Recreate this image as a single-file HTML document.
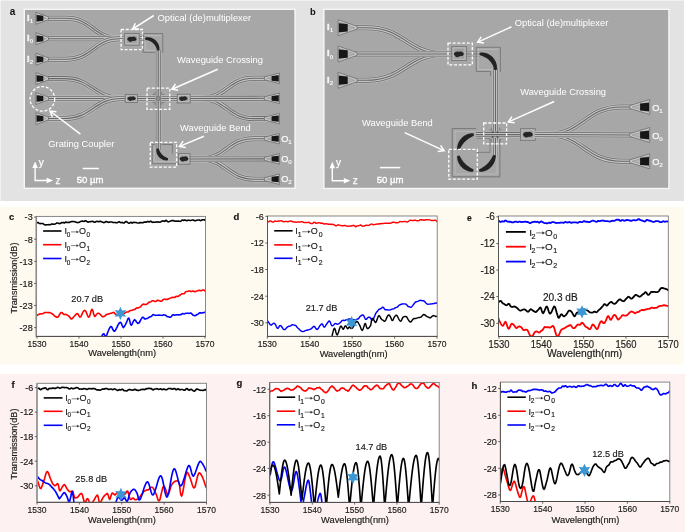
<!DOCTYPE html><html><head><meta charset="utf-8"><style>html,body{margin:0;padding:0;background:#fff;width:685px;height:532px;overflow:hidden}svg{display:block}#wrap{position:absolute;left:0;top:0;will-change:transform}text{font-family:"Liberation Sans", sans-serif}.cht text{stroke:#1a1a1a;stroke-width:0.16px}</style></head><body>
<div id="wrap">
<svg width="685" height="532" viewBox="0 0 685 532">
<defs><filter id="soft" x="-20%" y="-20%" width="140%" height="140%"><feGaussianBlur stdDeviation="0.45"/></filter></defs>
<rect x="0" y="0" width="685" height="532" fill="#ffffff"/>
<rect x="0.5" y="0.5" width="683.5" height="200.5" fill="#e3e3e3"/>
<rect x="0" y="207" width="684" height="157.5" fill="#fffaef"/>
<rect x="0" y="374" width="685" height="158" fill="#fdf1f1"/>
<g><rect x="23.6" y="8.6" width="272.1" height="180.4" fill="#f6f6f6"/><rect x="25" y="10" width="269.3" height="177.6" fill="#a7a7a7"/><path d="M48,18.3 L66,18.3 C93,18.3 93,38.7 120,38.7" fill="none" stroke="#b9b9b9" stroke-width="6.4"/><path d="M48,18.3 L66,18.3 C93,18.3 93,38.7 120,38.7" fill="none" stroke="#6c6c6c" stroke-width="5.0"/><path d="M48,18.3 L66,18.3 C93,18.3 93,38.7 120,38.7" fill="none" stroke="#c4c4c4" stroke-width="3.4"/><path d="M48,18.3 L66,18.3 C93,18.3 93,38.7 120,38.7" fill="none" stroke="#666" stroke-width="1.1"/><path d="M48,38.7 L125,38.7" fill="none" stroke="#b9b9b9" stroke-width="6.4"/><path d="M48,38.7 L125,38.7" fill="none" stroke="#6c6c6c" stroke-width="5.0"/><path d="M48,38.7 L125,38.7" fill="none" stroke="#c4c4c4" stroke-width="3.4"/><path d="M48,38.7 L125,38.7" fill="none" stroke="#666" stroke-width="1.1"/><path d="M48,59.2 L66,59.2 C93,59.2 93,38.7 120,38.7" fill="none" stroke="#b9b9b9" stroke-width="6.4"/><path d="M48,59.2 L66,59.2 C93,59.2 93,38.7 120,38.7" fill="none" stroke="#6c6c6c" stroke-width="5.0"/><path d="M48,59.2 L66,59.2 C93,59.2 93,38.7 120,38.7" fill="none" stroke="#c4c4c4" stroke-width="3.4"/><path d="M48,59.2 L66,59.2 C93,59.2 93,38.7 120,38.7" fill="none" stroke="#666" stroke-width="1.1"/><path d="M48,78.6 L64,78.6 C93,78.6 93,98.5 122,98.5" fill="none" stroke="#b9b9b9" stroke-width="6.4"/><path d="M48,78.6 L64,78.6 C93,78.6 93,98.5 122,98.5" fill="none" stroke="#6c6c6c" stroke-width="5.0"/><path d="M48,78.6 L64,78.6 C93,78.6 93,98.5 122,98.5" fill="none" stroke="#c4c4c4" stroke-width="3.4"/><path d="M48,78.6 L64,78.6 C93,78.6 93,98.5 122,98.5" fill="none" stroke="#666" stroke-width="1.1"/><path d="M48,98.5 L126,98.5" fill="none" stroke="#b9b9b9" stroke-width="6.4"/><path d="M48,98.5 L126,98.5" fill="none" stroke="#6c6c6c" stroke-width="5.0"/><path d="M48,98.5 L126,98.5" fill="none" stroke="#c4c4c4" stroke-width="3.4"/><path d="M48,98.5 L126,98.5" fill="none" stroke="#666" stroke-width="1.1"/><path d="M48,118.5 L64,118.5 C93,118.5 93,98.5 122,98.5" fill="none" stroke="#b9b9b9" stroke-width="6.4"/><path d="M48,118.5 L64,118.5 C93,118.5 93,98.5 122,98.5" fill="none" stroke="#6c6c6c" stroke-width="5.0"/><path d="M48,118.5 L64,118.5 C93,118.5 93,98.5 122,98.5" fill="none" stroke="#c4c4c4" stroke-width="3.4"/><path d="M48,118.5 L64,118.5 C93,118.5 93,98.5 122,98.5" fill="none" stroke="#666" stroke-width="1.1"/><path d="M137,98.5 L178,98.5" fill="none" stroke="#b9b9b9" stroke-width="6.4"/><path d="M137,98.5 L178,98.5" fill="none" stroke="#6c6c6c" stroke-width="5.0"/><path d="M137,98.5 L178,98.5" fill="none" stroke="#c4c4c4" stroke-width="3.4"/><path d="M137,98.5 L178,98.5" fill="none" stroke="#666" stroke-width="1.1"/><path d="M190,98.5 L200,98.5 C227,98.5 227,78.3 254,78.3 L268,78.3" fill="none" stroke="#b9b9b9" stroke-width="6.4"/><path d="M190,98.5 L200,98.5 C227,98.5 227,78.3 254,78.3 L268,78.3" fill="none" stroke="#6c6c6c" stroke-width="5.0"/><path d="M190,98.5 L200,98.5 C227,98.5 227,78.3 254,78.3 L268,78.3" fill="none" stroke="#c4c4c4" stroke-width="3.4"/><path d="M190,98.5 L200,98.5 C227,98.5 227,78.3 254,78.3 L268,78.3" fill="none" stroke="#666" stroke-width="1.1"/><path d="M190,98.5 L200,98.5 C227,98.5 227,118.6 254,118.6 L268,118.6" fill="none" stroke="#b9b9b9" stroke-width="6.4"/><path d="M190,98.5 L200,98.5 C227,98.5 227,118.6 254,118.6 L268,118.6" fill="none" stroke="#6c6c6c" stroke-width="5.0"/><path d="M190,98.5 L200,98.5 C227,98.5 227,118.6 254,118.6 L268,118.6" fill="none" stroke="#c4c4c4" stroke-width="3.4"/><path d="M190,98.5 L200,98.5 C227,98.5 227,118.6 254,118.6 L268,118.6" fill="none" stroke="#666" stroke-width="1.1"/><path d="M190,98.5 L268,98.3" fill="none" stroke="#b9b9b9" stroke-width="6.4"/><path d="M190,98.5 L268,98.3" fill="none" stroke="#6c6c6c" stroke-width="5.0"/><path d="M190,98.5 L268,98.3" fill="none" stroke="#c4c4c4" stroke-width="3.4"/><path d="M190,98.5 L268,98.3" fill="none" stroke="#666" stroke-width="1.1"/><path d="M190,159 L200,159 C227,159 227,138.7 254,138.7 L268,138.7" fill="none" stroke="#b9b9b9" stroke-width="6.4"/><path d="M190,159 L200,159 C227,159 227,138.7 254,138.7 L268,138.7" fill="none" stroke="#6c6c6c" stroke-width="5.0"/><path d="M190,159 L200,159 C227,159 227,138.7 254,138.7 L268,138.7" fill="none" stroke="#c4c4c4" stroke-width="3.4"/><path d="M190,159 L200,159 C227,159 227,138.7 254,138.7 L268,138.7" fill="none" stroke="#666" stroke-width="1.1"/><path d="M190,159 L200,159 C227,159 227,179.2 254,179.2 L268,179.2" fill="none" stroke="#b9b9b9" stroke-width="6.4"/><path d="M190,159 L200,159 C227,159 227,179.2 254,179.2 L268,179.2" fill="none" stroke="#6c6c6c" stroke-width="5.0"/><path d="M190,159 L200,159 C227,159 227,179.2 254,179.2 L268,179.2" fill="none" stroke="#c4c4c4" stroke-width="3.4"/><path d="M190,159 L200,159 C227,159 227,179.2 254,179.2 L268,179.2" fill="none" stroke="#666" stroke-width="1.1"/><path d="M190,159 L268,158.9" fill="none" stroke="#b9b9b9" stroke-width="6.4"/><path d="M190,159 L268,158.9" fill="none" stroke="#6c6c6c" stroke-width="5.0"/><path d="M190,159 L268,158.9" fill="none" stroke="#c4c4c4" stroke-width="3.4"/><path d="M190,159 L268,158.9" fill="none" stroke="#666" stroke-width="1.1"/><path d="M138,38.7 L147,38.7" fill="none" stroke="#b9b9b9" stroke-width="6.4"/><path d="M138,38.7 L147,38.7" fill="none" stroke="#6c6c6c" stroke-width="5.0"/><path d="M138,38.7 L147,38.7" fill="none" stroke="#c4c4c4" stroke-width="3.4"/><path d="M138,38.7 L147,38.7" fill="none" stroke="#666" stroke-width="1.1"/><path d="M158.2,50 L158.2,150" fill="none" stroke="#b9b9b9" stroke-width="6.4"/><path d="M158.2,50 L158.2,150" fill="none" stroke="#6c6c6c" stroke-width="5.0"/><path d="M158.2,50 L158.2,150" fill="none" stroke="#c4c4c4" stroke-width="3.4"/><path d="M158.2,50 L158.2,150" fill="none" stroke="#666" stroke-width="1.1"/><path d="M143.2,33.6 L162.8,33.6 L162.8,53 M143.2,33.6 L143.2,52.4 L155,52.4" fill="none" stroke="#777" stroke-width="0.9"/><path d="M145.2,35.6 L160.8,35.6 M145.2,35.6 L145.2,50.4 L155,50.4" fill="none" stroke="#c2c2c2" stroke-width="0.7"/><polygon points="145.07,37.65 145.6,37.42 146.14,37.3 146.7,37.23 147.25,37.2 147.82,37.19 148.38,37.22 148.94,37.27 149.5,37.35 150.06,37.46 150.61,37.6 151.16,37.76 151.7,37.95 152.23,38.17 152.75,38.41 153.26,38.67 153.76,38.96 154.24,39.28 154.71,39.61 155.16,39.97 155.59,40.35 156.01,40.75 156.4,41.17 156.78,41.61 157.13,42.06 157.46,42.53 157.77,43.01 158.06,43.51 158.32,44.02 158.56,44.54 158.77,45.07 158.95,45.61 159.11,46.15 159.24,46.71 159.34,47.26 159.42,47.82 159.46,48.38 159.47,48.94 159.45,49.5 159.38,50.05 159.2,50.6 157.2,50.6 157,50.15 156.87,49.71 156.74,49.28 156.61,48.86 156.47,48.44 156.32,48.03 156.16,47.63 155.98,47.23 155.8,46.84 155.6,46.46 155.39,46.09 155.17,45.73 154.94,45.37 154.7,45.03 154.44,44.69 154.18,44.37 153.91,44.05 153.62,43.74 153.33,43.44 153.02,43.15 152.71,42.88 152.39,42.61 152.06,42.35 151.72,42.11 151.37,41.87 151.01,41.65 150.64,41.44 150.27,41.24 149.89,41.05 149.5,40.88 149.11,40.71 148.7,40.56 148.29,40.42 147.88,40.3 147.46,40.18 147.03,40.08 146.59,39.98 146.15,39.9 145.71,39.81 145.24,39.64" fill="#222" filter="url(#soft)"/><rect x="124.6" y="33.6" width="14.6" height="11.6" fill="#a9a9a9" stroke="#727272" stroke-width="0.8"/><rect x="126" y="35" width="11.8" height="8.8" fill="#a0a0a0" stroke="#c6c6c6" stroke-width="0.7"/><g filter="url(#soft)"><ellipse cx="131.9" cy="39.05" rx="4.66" ry="2.06" fill="#1c1c1c"/><ellipse cx="130.43" cy="39.32" rx="2.21" ry="2.61" fill="#262626"/><ellipse cx="133.62" cy="38.77" rx="1.96" ry="2.34" fill="#262626"/></g><path d="M152.5,94.5 L155,94.5 L155,92 M161.5,92 L161.5,94.5 L164.5,94.5 M164.5,102.5 L161.5,102.5 L161.5,105 M155,105 L155,102.5 L152.5,102.5" fill="none" stroke="#777" stroke-width="0.8"/><circle cx="158.2" cy="98.5" r="2.4" fill="#777"/><circle cx="158.2" cy="98.5" r="1.2" fill="#9a9a9a"/><rect x="125.2" y="94.6" width="12.4" height="7.8" fill="#a9a9a9" stroke="#727272" stroke-width="0.8"/><rect x="126.6" y="96" width="9.6" height="5" fill="#a0a0a0" stroke="#c6c6c6" stroke-width="0.7"/><g filter="url(#soft)"><ellipse cx="131.6" cy="98.55" rx="4.18" ry="1.76" fill="#1c1c1c"/><ellipse cx="130.28" cy="98.79" rx="1.98" ry="2.23" fill="#262626"/><ellipse cx="133.14" cy="98.32" rx="1.76" ry="2" fill="#262626"/></g><rect x="177.2" y="94.2" width="13" height="8.8" fill="#a9a9a9" stroke="#727272" stroke-width="0.8"/><rect x="178.6" y="95.6" width="10.2" height="6" fill="#a0a0a0" stroke="#c6c6c6" stroke-width="0.7"/><g filter="url(#soft)"><ellipse cx="183.2" cy="98.6" rx="4.18" ry="1.8" fill="#1c1c1c"/><ellipse cx="181.88" cy="98.84" rx="1.98" ry="2.28" fill="#262626"/><ellipse cx="184.74" cy="98.36" rx="1.76" ry="2.04" fill="#262626"/></g><path d="M152.3,144.5 L155,144.5 M161.5,144.5 L172.4,144.5 L172.4,153.6 M152.3,144.5 L152.3,163.7 L178,163.7" fill="none" stroke="#777" stroke-width="0.9"/><path d="M154.3,146.5 L154.3,161.7 L176,161.7" fill="none" stroke="#c2c2c2" stroke-width="0.7"/><polygon points="156.7,148.4 156.47,148.86 156.37,149.33 156.32,149.8 156.3,150.27 156.31,150.75 156.34,151.23 156.4,151.7 156.49,152.18 156.59,152.65 156.72,153.12 156.88,153.58 157.05,154.03 157.25,154.48 157.47,154.92 157.71,155.34 157.97,155.76 158.25,156.16 158.54,156.55 158.86,156.93 159.19,157.29 159.54,157.64 159.91,157.97 160.29,158.28 160.68,158.57 161.09,158.84 161.51,159.1 161.94,159.33 162.37,159.54 162.82,159.74 163.28,159.9 163.74,160.05 164.21,160.18 164.68,160.28 165.15,160.35 165.63,160.4 166.11,160.43 166.58,160.42 167.06,160.39 167.53,160.31 167.99,160.09 168.05,158.29 167.69,158.04 167.34,157.88 166.99,157.73 166.65,157.59 166.31,157.44 165.98,157.29 165.66,157.14 165.35,156.97 165.04,156.8 164.74,156.63 164.44,156.45 164.15,156.26 163.87,156.06 163.59,155.86 163.32,155.65 163.06,155.44 162.8,155.21 162.55,154.99 162.31,154.75 162.07,154.51 161.84,154.27 161.61,154.01 161.39,153.76 161.18,153.49 160.98,153.22 160.78,152.94 160.59,152.66 160.4,152.37 160.22,152.08 160.05,151.77 159.88,151.47 159.73,151.15 159.57,150.83 159.43,150.5 159.29,150.17 159.15,149.83 159.02,149.49 158.89,149.13 158.75,148.77 158.5,148.4" fill="#222" filter="url(#soft)"/><rect x="178.4" y="153.6" width="11.6" height="10.6" fill="#a9a9a9" stroke="#727272" stroke-width="0.8"/><rect x="179.8" y="155" width="8.8" height="7.8" fill="#a0a0a0" stroke="#c6c6c6" stroke-width="0.7"/><g filter="url(#soft)"><ellipse cx="184" cy="158.8" rx="4.37" ry="2.1" fill="#1c1c1c"/><ellipse cx="182.62" cy="159.08" rx="2.07" ry="2.66" fill="#262626"/><ellipse cx="185.61" cy="158.52" rx="1.84" ry="2.38" fill="#262626"/></g><path d="M35.9,12.3 L48.4,16.9 L48.4,19.7 L35.9,24.3 Z" fill="#c9c9c9" stroke="#6c6c6c" stroke-width="0.8" stroke-linejoin="round"/><path d="M36.7,14.6 L46.2,18.3 L36.7,22 Z" fill="#b3b3b3" stroke="#8a8a8a" stroke-width="0.5"/><path d="M36.6,15.05 L43.3,15.75 L43.3,20.85 L36.6,21.55 Z" fill="#161616"/><path d="M35.9,32.7 L48.4,37.3 L48.4,40.1 L35.9,44.7 Z" fill="#c9c9c9" stroke="#6c6c6c" stroke-width="0.8" stroke-linejoin="round"/><path d="M36.7,35 L46.2,38.7 L36.7,42.4 Z" fill="#b3b3b3" stroke="#8a8a8a" stroke-width="0.5"/><path d="M36.6,35.45 L43.3,36.15 L43.3,41.25 L36.6,41.95 Z" fill="#161616"/><path d="M35.9,53.2 L48.4,57.8 L48.4,60.6 L35.9,65.2 Z" fill="#c9c9c9" stroke="#6c6c6c" stroke-width="0.8" stroke-linejoin="round"/><path d="M36.7,55.5 L46.2,59.2 L36.7,62.9 Z" fill="#b3b3b3" stroke="#8a8a8a" stroke-width="0.5"/><path d="M36.6,55.95 L43.3,56.65 L43.3,61.75 L36.6,62.45 Z" fill="#161616"/><path d="M35.9,72.6 L48.4,77.2 L48.4,80 L35.9,84.6 Z" fill="#c9c9c9" stroke="#6c6c6c" stroke-width="0.8" stroke-linejoin="round"/><path d="M36.7,74.9 L46.2,78.6 L36.7,82.3 Z" fill="#b3b3b3" stroke="#8a8a8a" stroke-width="0.5"/><path d="M36.6,75.35 L43.3,76.05 L43.3,81.15 L36.6,81.85 Z" fill="#161616"/><path d="M35.9,92.5 L48.4,97.1 L48.4,99.9 L35.9,104.5 Z" fill="#c9c9c9" stroke="#6c6c6c" stroke-width="0.8" stroke-linejoin="round"/><path d="M36.7,94.8 L46.2,98.5 L36.7,102.2 Z" fill="#b3b3b3" stroke="#8a8a8a" stroke-width="0.5"/><path d="M36.6,95.25 L43.3,95.95 L43.3,101.05 L36.6,101.75 Z" fill="#161616"/><path d="M35.9,112.5 L48.4,117.1 L48.4,119.9 L35.9,124.5 Z" fill="#c9c9c9" stroke="#6c6c6c" stroke-width="0.8" stroke-linejoin="round"/><path d="M36.7,114.8 L46.2,118.5 L36.7,122.2 Z" fill="#b3b3b3" stroke="#8a8a8a" stroke-width="0.5"/><path d="M36.6,115.25 L43.3,115.95 L43.3,121.05 L36.6,121.75 Z" fill="#161616"/><path d="M279.4,73.05 L264.4,76.9 L264.4,79.7 L279.4,83.55 Z" fill="#c9c9c9" stroke="#6c6c6c" stroke-width="0.8" stroke-linejoin="round"/><path d="M278.6,75.35 L266.6,78.3 L278.6,81.25 Z" fill="#b3b3b3" stroke="#8a8a8a" stroke-width="0.5"/><path d="M278.7,75.2 L271.6,75.9 L271.6,80.7 L278.7,81.4 Z" fill="#161616"/><path d="M279.4,93.05 L264.4,96.9 L264.4,99.7 L279.4,103.55 Z" fill="#c9c9c9" stroke="#6c6c6c" stroke-width="0.8" stroke-linejoin="round"/><path d="M278.6,95.35 L266.6,98.3 L278.6,101.25 Z" fill="#b3b3b3" stroke="#8a8a8a" stroke-width="0.5"/><path d="M278.7,95.2 L271.6,95.9 L271.6,100.7 L278.7,101.4 Z" fill="#161616"/><path d="M279.4,113.35 L264.4,117.2 L264.4,120 L279.4,123.85 Z" fill="#c9c9c9" stroke="#6c6c6c" stroke-width="0.8" stroke-linejoin="round"/><path d="M278.6,115.65 L266.6,118.6 L278.6,121.55 Z" fill="#b3b3b3" stroke="#8a8a8a" stroke-width="0.5"/><path d="M278.7,115.5 L271.6,116.2 L271.6,121 L278.7,121.7 Z" fill="#161616"/><path d="M279.4,133.45 L264.4,137.3 L264.4,140.1 L279.4,143.95 Z" fill="#c9c9c9" stroke="#6c6c6c" stroke-width="0.8" stroke-linejoin="round"/><path d="M278.6,135.75 L266.6,138.7 L278.6,141.65 Z" fill="#b3b3b3" stroke="#8a8a8a" stroke-width="0.5"/><path d="M278.7,135.6 L271.6,136.3 L271.6,141.1 L278.7,141.8 Z" fill="#161616"/><path d="M279.4,153.65 L264.4,157.5 L264.4,160.3 L279.4,164.15 Z" fill="#c9c9c9" stroke="#6c6c6c" stroke-width="0.8" stroke-linejoin="round"/><path d="M278.6,155.95 L266.6,158.9 L278.6,161.85 Z" fill="#b3b3b3" stroke="#8a8a8a" stroke-width="0.5"/><path d="M278.7,155.8 L271.6,156.5 L271.6,161.3 L278.7,162 Z" fill="#161616"/><path d="M279.4,173.95 L264.4,177.8 L264.4,180.6 L279.4,184.45 Z" fill="#c9c9c9" stroke="#6c6c6c" stroke-width="0.8" stroke-linejoin="round"/><path d="M278.6,176.25 L266.6,179.2 L278.6,182.15 Z" fill="#b3b3b3" stroke="#8a8a8a" stroke-width="0.5"/><path d="M278.7,176.1 L271.6,176.8 L271.6,181.6 L278.7,182.3 Z" fill="#161616"/><text x="27" y="20.9" font-size="9.2" font-weight="bold" fill="#f6f6f6" stroke="#f6f6f6" stroke-width="0.45">I</text><text x="29.7" y="23.2" font-size="6.2" font-weight="bold" fill="#f6f6f6">1</text><text x="27" y="41.1" font-size="9.2" font-weight="bold" fill="#f6f6f6" stroke="#f6f6f6" stroke-width="0.45">I</text><text x="29.7" y="43.4" font-size="6.2" font-weight="bold" fill="#f6f6f6">0</text><text x="27" y="61.6" font-size="9.2" font-weight="bold" fill="#f6f6f6" stroke="#f6f6f6" stroke-width="0.45">I</text><text x="29.7" y="63.9" font-size="6.2" font-weight="bold" fill="#f6f6f6">2</text><text x="281.2" y="141.6" font-size="9.2" fill="#f8f8f8" stroke="#f8f8f8" stroke-width="0.25">O</text><text x="288.2" y="143.9" font-size="6.2" fill="#f8f8f8" stroke="#f8f8f8" stroke-width="0.15">1</text><text x="281.2" y="161.8" font-size="9.2" fill="#f8f8f8" stroke="#f8f8f8" stroke-width="0.25">O</text><text x="288.2" y="164.1" font-size="6.2" fill="#f8f8f8" stroke="#f8f8f8" stroke-width="0.15">0</text><text x="281.2" y="182.1" font-size="9.2" fill="#f8f8f8" stroke="#f8f8f8" stroke-width="0.25">O</text><text x="288.2" y="184.4" font-size="6.2" fill="#f8f8f8" stroke="#f8f8f8" stroke-width="0.15">2</text><rect x="121.1" y="29.5" width="21.4" height="20.1" fill="none" stroke="#fff" stroke-width="1.3" stroke-dasharray="3,1.7"/><rect x="147" y="88.1" width="22.8" height="21.2" fill="none" stroke="#fff" stroke-width="1.3" stroke-dasharray="3,1.7"/><rect x="150.3" y="142.3" width="26.3" height="24.9" fill="none" stroke="#fff" stroke-width="1.3" stroke-dasharray="3,1.7"/><circle cx="42.4" cy="98.9" r="12.3" fill="none" stroke="#fff" stroke-width="1.3" stroke-dasharray="3,1.7"/><line x1="153.8" y1="15.5" x2="133.27" y2="28.67" stroke="#fff" stroke-width="1.5"/><polyline points="135.39,23.27 132.6,29.1 139.07,28.99" fill="none" stroke="#fff" stroke-width="1.5" stroke-linejoin="miter" stroke-miterlimit="6"/><line x1="217.7" y1="69.3" x2="172.53" y2="88.98" stroke="#fff" stroke-width="1.5"/><polyline points="175.48,83.99 171.8,89.3 178.2,90.22" fill="none" stroke="#fff" stroke-width="1.5" stroke-linejoin="miter" stroke-miterlimit="6"/><line x1="204" y1="136.2" x2="180.14" y2="146.09" stroke="#fff" stroke-width="1.5"/><polyline points="183.18,141.15 179.4,146.4 185.78,147.43" fill="none" stroke="#fff" stroke-width="1.5" stroke-linejoin="miter" stroke-miterlimit="6"/><line x1="80.4" y1="134.2" x2="50.64" y2="111.49" stroke="#fff" stroke-width="1.5"/><polyline points="56.43,111.63 50,111 52.31,117.04" fill="none" stroke="#fff" stroke-width="1.5" stroke-linejoin="miter" stroke-miterlimit="6"/><text x="157.6" y="21.2" font-size="9.35" text-anchor="start" font-weight="normal" fill="#fff">Optical (de)multiplexer</text><text x="177.1" y="62.7" font-size="9.35" text-anchor="start" font-weight="normal" fill="#fff">Waveguide Crossing</text><text x="180" y="130.6" font-size="9.35" text-anchor="start" font-weight="normal" fill="#fff">Waveguide Bend</text><text x="48.3" y="146.7" font-size="9.35" text-anchor="start" font-weight="normal" fill="#fff">Grating Coupler</text><polyline points="35.1,166.5 35.1,180.5 47.6,180.5" fill="none" stroke="#fff" stroke-width="1.4"/><path d="M32.3,168 L35.1,161.5 L37.9,168 Z" fill="#fff"/><path d="M46.6,177.7 L53.1,180.5 L46.6,183.3 Z" fill="#fff"/><text x="38.7" y="165.5" font-size="10" text-anchor="start" font-weight="normal" fill="#fff" stroke="#fff" stroke-width="0.25">y</text><text x="55.6" y="183.9" font-size="10" text-anchor="start" font-weight="normal" fill="#fff" stroke="#fff" stroke-width="0.25">z</text><line x1="82.7" y1="168.5" x2="98.9" y2="168.5" stroke="#fff" stroke-width="1.5"/><text x="90.1" y="183.3" font-size="9.6" text-anchor="middle" font-weight="normal" fill="#fff" stroke="#fff" stroke-width="0.35">50 µm</text></g>
<g><rect x="323.2" y="8.6" width="346.4" height="180.6" fill="#f6f6f6"/><rect x="324.6" y="10" width="343.6" height="177.8" fill="#a7a7a7"/><path d="M349,27.7 L366,27.7 C406,27.7 406,54 446,54" fill="none" stroke="#b9b9b9" stroke-width="6.4"/><path d="M349,27.7 L366,27.7 C406,27.7 406,54 446,54" fill="none" stroke="#6c6c6c" stroke-width="5.0"/><path d="M349,27.7 L366,27.7 C406,27.7 406,54 446,54" fill="none" stroke="#c4c4c4" stroke-width="3.4"/><path d="M349,27.7 L366,27.7 C406,27.7 406,54 446,54" fill="none" stroke="#666" stroke-width="1.1"/><path d="M349,80.3 L366,80.3 C406,80.3 406,54 446,54" fill="none" stroke="#b9b9b9" stroke-width="6.4"/><path d="M349,80.3 L366,80.3 C406,80.3 406,54 446,54" fill="none" stroke="#6c6c6c" stroke-width="5.0"/><path d="M349,80.3 L366,80.3 C406,80.3 406,54 446,54" fill="none" stroke="#c4c4c4" stroke-width="3.4"/><path d="M349,80.3 L366,80.3 C406,80.3 406,54 446,54" fill="none" stroke="#666" stroke-width="1.1"/><path d="M349,54 L452,54" fill="none" stroke="#b9b9b9" stroke-width="6.4"/><path d="M349,54 L452,54" fill="none" stroke="#6c6c6c" stroke-width="5.0"/><path d="M349,54 L452,54" fill="none" stroke="#c4c4c4" stroke-width="3.4"/><path d="M349,54 L452,54" fill="none" stroke="#666" stroke-width="1.1"/><path d="M466,54 L480,54" fill="none" stroke="#b9b9b9" stroke-width="6.4"/><path d="M466,54 L480,54" fill="none" stroke="#6c6c6c" stroke-width="5.0"/><path d="M466,54 L480,54" fill="none" stroke="#c4c4c4" stroke-width="3.4"/><path d="M466,54 L480,54" fill="none" stroke="#666" stroke-width="1.1"/><path d="M495.5,68 L495.5,158" fill="none" stroke="#b9b9b9" stroke-width="6.4"/><path d="M495.5,68 L495.5,158" fill="none" stroke="#6c6c6c" stroke-width="5.0"/><path d="M495.5,68 L495.5,158" fill="none" stroke="#c4c4c4" stroke-width="3.4"/><path d="M495.5,68 L495.5,158" fill="none" stroke="#666" stroke-width="1.1"/><path d="M476,134.6 L521,134.6" fill="none" stroke="#b9b9b9" stroke-width="6.4"/><path d="M476,134.6 L521,134.6" fill="none" stroke="#6c6c6c" stroke-width="5.0"/><path d="M476,134.6 L521,134.6" fill="none" stroke="#c4c4c4" stroke-width="3.4"/><path d="M476,134.6 L521,134.6" fill="none" stroke="#666" stroke-width="1.1"/><path d="M476.2,47.3 L500.4,47.3 L500.4,72 M476.2,47.3 L476.2,71.5 L490.6,71.5 L490.6,76" fill="none" stroke="#777" stroke-width="0.9"/><path d="M478.2,49.3 L498.4,49.3 M478.2,49.3 L478.2,69.5 L492.4,69.5" fill="none" stroke="#c2c2c2" stroke-width="0.7"/><polygon points="479.6,52.9 480.28,52.65 480.96,52.56 481.66,52.52 482.35,52.52 483.05,52.57 483.74,52.64 484.44,52.76 485.12,52.9 485.8,53.08 486.48,53.29 487.14,53.54 487.8,53.81 488.44,54.12 489.07,54.45 489.68,54.81 490.28,55.2 490.86,55.62 491.41,56.07 491.95,56.54 492.47,57.03 492.96,57.55 493.43,58.09 493.88,58.64 494.3,59.22 494.69,59.82 495.05,60.43 495.38,61.06 495.69,61.7 495.96,62.36 496.21,63.02 496.42,63.7 496.6,64.38 496.74,65.06 496.86,65.76 496.93,66.45 496.98,67.15 496.98,67.84 496.94,68.54 496.85,69.22 496.6,69.9 494.4,69.9 494.13,69.33 493.96,68.77 493.8,68.22 493.63,67.68 493.45,67.14 493.26,66.62 493.06,66.1 492.85,65.6 492.62,65.1 492.37,64.61 492.12,64.13 491.85,63.66 491.56,63.2 491.26,62.75 490.95,62.31 490.63,61.89 490.3,61.47 489.95,61.06 489.59,60.67 489.22,60.28 488.83,59.91 488.44,59.55 488.03,59.2 487.61,58.87 487.19,58.55 486.75,58.24 486.3,57.94 485.84,57.65 485.37,57.38 484.89,57.13 484.4,56.88 483.9,56.65 483.4,56.44 482.88,56.24 482.36,56.05 481.82,55.87 481.28,55.7 480.73,55.54 480.17,55.37 479.6,55.1" fill="#222" filter="url(#soft)"/><rect x="451.8" y="46.6" width="14.6" height="14" fill="#a9a9a9" stroke="#727272" stroke-width="0.8"/><rect x="453.2" y="48" width="11.8" height="11.2" fill="#a0a0a0" stroke="#c6c6c6" stroke-width="0.7"/><g filter="url(#soft)"><ellipse cx="458.8" cy="54" rx="4.94" ry="2.25" fill="#1c1c1c"/><ellipse cx="457.24" cy="54.3" rx="2.34" ry="2.85" fill="#262626"/><ellipse cx="460.62" cy="53.7" rx="2.08" ry="2.55" fill="#262626"/></g><path d="M476,128.6 L452.2,128.6 L452.2,176.8 L499.9,176.8 L499.9,140" fill="none" stroke="#737373" stroke-width="0.9"/><path d="M476,131.4 L455,131.4 L455,174 L497.1,174 L497.1,140" fill="none" stroke="#c0c0c0" stroke-width="0.7"/><path d="M476.6,138.3 L490,138.3 L490,152.4 L476.6,152.4" fill="none" stroke="#7a7a7a" stroke-width="0.8"/><polygon points="473.63,133.59 472.98,133.36 472.34,133.31 471.71,133.31 471.07,133.36 470.44,133.43 469.81,133.54 469.19,133.68 468.57,133.84 467.95,134.03 467.35,134.25 466.75,134.49 466.16,134.76 465.59,135.05 465.02,135.36 464.47,135.7 463.93,136.06 463.4,136.44 462.89,136.84 462.4,137.27 461.92,137.71 461.46,138.17 461.02,138.65 460.6,139.15 460.2,139.66 459.82,140.18 459.47,140.73 459.13,141.28 458.82,141.85 458.53,142.43 458.27,143.01 458.03,143.61 457.82,144.22 457.64,144.83 457.48,145.45 457.35,146.07 457.25,146.7 457.19,147.33 457.16,147.97 457.19,148.61 457.39,149.27 459.36,149.61 459.78,149.15 460.06,148.67 460.32,148.2 460.58,147.73 460.83,147.27 461.09,146.82 461.36,146.38 461.63,145.95 461.91,145.52 462.19,145.1 462.48,144.68 462.78,144.28 463.08,143.88 463.39,143.49 463.71,143.11 464.03,142.73 464.36,142.37 464.7,142.01 465.04,141.65 465.39,141.31 465.75,140.97 466.12,140.64 466.49,140.31 466.87,139.99 467.25,139.68 467.65,139.38 468.05,139.08 468.46,138.79 468.87,138.51 469.29,138.24 469.72,137.97 470.16,137.71 470.61,137.45 471.06,137.2 471.52,136.96 471.98,136.72 472.46,136.48 472.94,136.23 473.43,135.97 473.91,135.57" fill="#222" filter="url(#soft)"/><polygon points="457.39,155.93 457.19,156.58 457.16,157.21 457.18,157.84 457.24,158.46 457.33,159.08 457.46,159.7 457.61,160.31 457.79,160.92 458,161.52 458.23,162.11 458.49,162.69 458.77,163.26 459.07,163.82 459.39,164.37 459.74,164.91 460.11,165.43 460.5,165.94 460.91,166.43 461.34,166.91 461.79,167.36 462.26,167.8 462.74,168.23 463.24,168.63 463.75,169.01 464.28,169.37 464.83,169.71 465.38,170.02 465.95,170.32 466.52,170.59 467.11,170.83 467.7,171.05 468.31,171.25 468.92,171.42 469.53,171.56 470.15,171.68 470.77,171.76 471.39,171.81 472.02,171.82 472.65,171.78 473.3,171.56 473.61,169.59 473.15,169.18 472.67,168.91 472.2,168.66 471.74,168.41 471.28,168.17 470.83,167.92 470.39,167.67 469.95,167.41 469.53,167.14 469.11,166.87 468.69,166.59 468.29,166.31 467.89,166.02 467.5,165.72 467.11,165.42 466.74,165.11 466.37,164.79 466,164.47 465.65,164.14 465.3,163.8 464.95,163.45 464.62,163.1 464.28,162.74 463.96,162.38 463.64,162.01 463.33,161.63 463.03,161.24 462.73,160.85 462.44,160.45 462.16,160.04 461.88,159.63 461.61,159.2 461.34,158.77 461.08,158.34 460.82,157.89 460.57,157.44 460.32,156.98 460.06,156.51 459.78,156.04 459.36,155.59" fill="#222" filter="url(#soft)"/><polygon points="479.3,171.56 479.97,171.78 480.61,171.81 481.26,171.8 481.9,171.74 482.54,171.65 483.17,171.53 483.8,171.37 484.42,171.19 485.04,170.99 485.65,170.75 486.25,170.49 486.84,170.21 487.42,169.9 487.98,169.57 488.54,169.21 489.07,168.83 489.6,168.43 490.1,168.01 490.59,167.57 491.06,167.11 491.52,166.63 491.95,166.13 492.36,165.62 492.75,165.09 493.12,164.54 493.47,163.98 493.79,163.41 494.09,162.83 494.36,162.23 494.61,161.63 494.84,161.02 495.03,160.4 495.2,159.77 495.34,159.14 495.45,158.5 495.53,157.86 495.58,157.22 495.59,156.58 495.54,155.93 495.31,155.27 493.33,154.99 492.93,155.48 492.66,155.97 492.42,156.46 492.18,156.94 491.93,157.42 491.68,157.88 491.43,158.34 491.17,158.79 490.91,159.23 490.63,159.67 490.35,160.1 490.07,160.52 489.77,160.93 489.47,161.33 489.16,161.73 488.84,162.12 488.52,162.5 488.18,162.88 487.84,163.24 487.5,163.6 487.14,163.96 486.78,164.3 486.41,164.64 486.04,164.97 485.65,165.3 485.26,165.61 484.86,165.92 484.45,166.23 484.04,166.52 483.62,166.81 483.19,167.09 482.75,167.36 482.3,167.63 481.85,167.89 481.39,168.15 480.92,168.4 480.44,168.65 479.96,168.9 479.47,169.17 478.99,169.59" fill="#222" filter="url(#soft)"/><path d="M489.5,130 L491.5,130 L491.5,127.5 M499.5,127.5 L499.5,130 L501.5,130 M501.5,139.5 L499.5,139.5 L499.5,142 M491.5,142 L491.5,139.5 L489.5,139.5" fill="none" stroke="#777" stroke-width="0.8"/><rect x="491.6" y="131.3" width="1.8" height="1.8" fill="#555"/><rect x="496.6" y="131.3" width="1.8" height="1.8" fill="#555"/><rect x="491.6" y="136.1" width="1.8" height="1.8" fill="#555"/><rect x="496.6" y="136.1" width="1.8" height="1.8" fill="#555"/><rect x="520.6" y="128.7" width="14.7" height="11.6" fill="#a9a9a9" stroke="#727272" stroke-width="0.8"/><rect x="522" y="130.1" width="11.9" height="8.8" fill="#a0a0a0" stroke="#c6c6c6" stroke-width="0.7"/><g filter="url(#soft)"><ellipse cx="527.9" cy="134.5" rx="4.85" ry="2.18" fill="#1c1c1c"/><ellipse cx="526.37" cy="134.79" rx="2.3" ry="2.76" fill="#262626"/><ellipse cx="529.68" cy="134.21" rx="2.04" ry="2.47" fill="#262626"/></g><path d="M535,134.5 L546,134.5 C584,134.5 584,107 622,107 L636,107" fill="none" stroke="#b9b9b9" stroke-width="6.4"/><path d="M535,134.5 L546,134.5 C584,134.5 584,107 622,107 L636,107" fill="none" stroke="#6c6c6c" stroke-width="5.0"/><path d="M535,134.5 L546,134.5 C584,134.5 584,107 622,107 L636,107" fill="none" stroke="#c4c4c4" stroke-width="3.4"/><path d="M535,134.5 L546,134.5 C584,134.5 584,107 622,107 L636,107" fill="none" stroke="#666" stroke-width="1.1"/><path d="M535,134.5 L546,134.5 C584,134.5 584,161.3 622,161.3 L636,161.3" fill="none" stroke="#b9b9b9" stroke-width="6.4"/><path d="M535,134.5 L546,134.5 C584,134.5 584,161.3 622,161.3 L636,161.3" fill="none" stroke="#6c6c6c" stroke-width="5.0"/><path d="M535,134.5 L546,134.5 C584,134.5 584,161.3 622,161.3 L636,161.3" fill="none" stroke="#c4c4c4" stroke-width="3.4"/><path d="M535,134.5 L546,134.5 C584,134.5 584,161.3 622,161.3 L636,161.3" fill="none" stroke="#666" stroke-width="1.1"/><path d="M535,134.5 L636,135" fill="none" stroke="#b9b9b9" stroke-width="6.4"/><path d="M535,134.5 L636,135" fill="none" stroke="#6c6c6c" stroke-width="5.0"/><path d="M535,134.5 L636,135" fill="none" stroke="#c4c4c4" stroke-width="3.4"/><path d="M535,134.5 L636,135" fill="none" stroke="#666" stroke-width="1.1"/><path d="M338.1,19.75 L357.1,26.3 L357.1,29.1 L338.1,35.65 Z" fill="#c9c9c9" stroke="#6c6c6c" stroke-width="0.8" stroke-linejoin="round"/><path d="M338.9,22.05 L354.9,27.7 L338.9,33.35 Z" fill="#b3b3b3" stroke="#8a8a8a" stroke-width="0.5"/><path d="M338.8,23.2 L347.7,23.9 L347.7,31.5 L338.8,32.2 Z" fill="#161616"/><path d="M338.1,46.05 L357.1,52.6 L357.1,55.4 L338.1,61.95 Z" fill="#c9c9c9" stroke="#6c6c6c" stroke-width="0.8" stroke-linejoin="round"/><path d="M338.9,48.35 L354.9,54 L338.9,59.65 Z" fill="#b3b3b3" stroke="#8a8a8a" stroke-width="0.5"/><path d="M338.8,49.5 L347.7,50.2 L347.7,57.8 L338.8,58.5 Z" fill="#161616"/><path d="M338.1,72.35 L357.1,78.9 L357.1,81.7 L338.1,88.25 Z" fill="#c9c9c9" stroke="#6c6c6c" stroke-width="0.8" stroke-linejoin="round"/><path d="M338.9,74.65 L354.9,80.3 L338.9,85.95 Z" fill="#b3b3b3" stroke="#8a8a8a" stroke-width="0.5"/><path d="M338.8,75.8 L347.7,76.5 L347.7,84.1 L338.8,84.8 Z" fill="#161616"/><path d="M649.7,99.5 L629.7,105.6 L629.7,108.4 L649.7,114.5 Z" fill="#c9c9c9" stroke="#6c6c6c" stroke-width="0.8" stroke-linejoin="round"/><path d="M648.9,101.8 L631.9,107 L648.9,112.2 Z" fill="#b3b3b3" stroke="#8a8a8a" stroke-width="0.5"/><path d="M649,102.7 L640.1,103.4 L640.1,110.6 L649,111.3 Z" fill="#161616"/><path d="M649.7,127.5 L629.7,133.6 L629.7,136.4 L649.7,142.5 Z" fill="#c9c9c9" stroke="#6c6c6c" stroke-width="0.8" stroke-linejoin="round"/><path d="M648.9,129.8 L631.9,135 L648.9,140.2 Z" fill="#b3b3b3" stroke="#8a8a8a" stroke-width="0.5"/><path d="M649,130.7 L640.1,131.4 L640.1,138.6 L649,139.3 Z" fill="#161616"/><path d="M649.7,153.8 L629.7,159.9 L629.7,162.7 L649.7,168.8 Z" fill="#c9c9c9" stroke="#6c6c6c" stroke-width="0.8" stroke-linejoin="round"/><path d="M648.9,156.1 L631.9,161.3 L648.9,166.5 Z" fill="#b3b3b3" stroke="#8a8a8a" stroke-width="0.5"/><path d="M649,157 L640.1,157.7 L640.1,164.9 L649,165.6 Z" fill="#161616"/><text x="327.1" y="30" font-size="9.2" font-weight="bold" fill="#f6f6f6" stroke="#f6f6f6" stroke-width="0.45">I</text><text x="329.8" y="32.3" font-size="6.2" font-weight="bold" fill="#f6f6f6">1</text><text x="327.1" y="56.3" font-size="9.2" font-weight="bold" fill="#f6f6f6" stroke="#f6f6f6" stroke-width="0.45">I</text><text x="329.8" y="58.6" font-size="6.2" font-weight="bold" fill="#f6f6f6">0</text><text x="327.1" y="82.6" font-size="9.2" font-weight="bold" fill="#f6f6f6" stroke="#f6f6f6" stroke-width="0.45">I</text><text x="329.8" y="84.9" font-size="6.2" font-weight="bold" fill="#f6f6f6">2</text><text x="652.2" y="110.5" font-size="9.2" fill="#f8f8f8" stroke="#f8f8f8" stroke-width="0.25">O</text><text x="659.2" y="112.8" font-size="6.2" fill="#f8f8f8" stroke="#f8f8f8" stroke-width="0.15">1</text><text x="652.2" y="138.5" font-size="9.2" fill="#f8f8f8" stroke="#f8f8f8" stroke-width="0.25">O</text><text x="659.2" y="140.8" font-size="6.2" fill="#f8f8f8" stroke="#f8f8f8" stroke-width="0.15">0</text><text x="652.2" y="164.8" font-size="9.2" fill="#f8f8f8" stroke="#f8f8f8" stroke-width="0.25">O</text><text x="659.2" y="167.1" font-size="6.2" fill="#f8f8f8" stroke="#f8f8f8" stroke-width="0.15">2</text><rect x="448" y="43.2" width="24.3" height="21.6" fill="none" stroke="#fff" stroke-width="1.3" stroke-dasharray="3,1.7"/><rect x="483.7" y="123" width="22.9" height="20.8" fill="none" stroke="#fff" stroke-width="1.3" stroke-dasharray="3,1.7"/><rect x="448.8" y="149.3" width="28.5" height="29.9" fill="none" stroke="#fff" stroke-width="1.3" stroke-dasharray="3,1.7"/><line x1="511.5" y1="26.8" x2="478.33" y2="41.87" stroke="#fff" stroke-width="1.5"/><polyline points="481.2,36.83 477.6,42.2 484.01,43.02" fill="none" stroke="#fff" stroke-width="1.5" stroke-linejoin="miter" stroke-miterlimit="6"/><line x1="554.2" y1="101.5" x2="509.03" y2="121.67" stroke="#fff" stroke-width="1.5"/><polyline points="511.94,116.65 508.3,122 514.71,122.86" fill="none" stroke="#fff" stroke-width="1.5" stroke-linejoin="miter" stroke-miterlimit="6"/><line x1="404.7" y1="132.6" x2="443.37" y2="150.37" stroke="#fff" stroke-width="1.5"/><polyline points="437.68,151.49 444.1,150.7 440.52,145.31" fill="none" stroke="#fff" stroke-width="1.5" stroke-linejoin="miter" stroke-miterlimit="6"/><text x="514.8" y="26" font-size="9.35" text-anchor="start" font-weight="normal" fill="#fff">Optical (de)multiplexer</text><text x="520.2" y="94.6" font-size="9.35" text-anchor="start" font-weight="normal" fill="#fff">Waveguide Crossing</text><text x="362" y="126.3" font-size="9.35" text-anchor="start" font-weight="normal" fill="#fff">Waveguide Bend</text><polyline points="332.3,166.7 332.3,180.7 344.8,180.7" fill="none" stroke="#fff" stroke-width="1.4"/><path d="M329.5,168.2 L332.3,161.7 L335.1,168.2 Z" fill="#fff"/><path d="M343.8,177.9 L350.3,180.7 L343.8,183.5 Z" fill="#fff"/><text x="335.9" y="165.7" font-size="10" text-anchor="start" font-weight="normal" fill="#fff" stroke="#fff" stroke-width="0.25">y</text><text x="352.8" y="184.1" font-size="10" text-anchor="start" font-weight="normal" fill="#fff" stroke="#fff" stroke-width="0.25">z</text><line x1="379.9" y1="167.6" x2="400.3" y2="167.6" stroke="#fff" stroke-width="1.5"/><text x="390.1" y="183.4" font-size="9.6" text-anchor="middle" font-weight="normal" fill="#fff" stroke="#fff" stroke-width="0.35">50 µm</text></g>
<text x="9.8" y="14.7" font-size="10" text-anchor="start" font-weight="bold" fill="#111">a</text>
<text x="310" y="14.8" font-size="9.4" text-anchor="start" font-weight="bold" fill="#111">b</text>
<g class="cht"><clipPath id="cc"><rect x="36.3" y="216.4" width="169.2" height="120"/></clipPath><rect x="36.3" y="216.4" width="169.2" height="120" fill="#fff"/><polyline points="36.3,315.84 36.7,315.51 37.22,315.32 37.85,314.79 38.54,314.46 39.29,314.14 40.07,313.99 40.84,313.88 41.6,313.8 42.21,313.8 42.84,313.66 43.5,313.26 44.17,312.83 44.85,312.44 45.53,312.56 46.2,312.54 46.86,312.61 47.49,312.56 48.1,312.57 48.83,312.61 49.56,312.49 50.26,312.8 50.95,313.02 51.61,313.59 52.24,313.79 52.84,314.3 53.4,314.65 54.17,315.57 54.8,316.12 55.38,316.64 55.99,316.8 56.7,317.21 57.28,317.31 57.9,317.09 58.55,316.37 59.22,315.04 59.9,313.98 60.6,312.9 61.3,312.53 61.92,312.56 62.54,313.15 63.18,313.97 63.82,314.45 64.47,314.52 65.14,314.35 65.81,314.43 66.5,314.63 67.13,315.08 67.79,315.38 68.46,316.04 69.15,316.43 69.83,317.38 70.5,318.13 71.16,318.99 71.8,318.94 72.4,318.43 73.14,317.53 73.85,316.73 74.53,316 75.19,315.26 75.82,314.59 76.42,313.97 77,313.59 77.73,313.72 78.36,314.7 78.96,315.78 79.59,316.86 80.3,317.03 80.87,316.57 81.48,315.31 82.12,313.87 82.77,312.47 83.43,311.33 84.07,310.69 84.7,310.41 85.32,310.83 85.95,311.59 86.58,313.01 87.2,314.61 87.8,316.05 88.37,317 88.9,317.14 89.71,316 90.43,313.35 91.1,310.78 91.8,309.29 92.39,309.72 92.98,311.32 93.57,313.53 94.18,315.55 94.8,316.45 95.41,316.1 96.01,315.1 96.63,314.2 97.31,313.48 98.1,313.25 98.66,313.19 99.26,313.56 99.91,314.03 100.58,314.71 101.26,315.44 101.95,316.18 102.63,316.78 103.3,316.82 103.96,316.57 104.62,316 105.28,315.54 105.95,314.92 106.62,314.48 107.28,314.18 107.94,314.09 108.6,313.98 109.27,313.72 109.95,313.45 110.65,313.32 111.33,313.25 112,313.07 112.64,312.65 113.25,312.36 113.8,312.43 114.54,313.12 115.14,313.89 115.69,314.48 116.28,314.51 117,314.51 117.54,314.24 118.12,314.45 118.73,314.23 119.37,314.12 120.02,313.62 120.69,313.45 121.35,313.25 122,313.25 122.65,313.3 123.32,313.48 123.99,313.46 124.66,313.16 125.34,312.65 126,312.22 126.66,312.02 127.3,312 128,311.97 128.66,311.74 129.31,311.21 129.96,310.77 130.63,310.51 131.33,310.48 132.1,310.21 132.69,310 133.31,309.69 133.97,309.58 134.66,309.45 135.34,309.02 136.03,308.36 136.7,307.9 137.34,307.9 137.95,308.07 138.5,307.83 139.32,307.38 140.04,307 140.7,306.58 141.33,305.91 141.95,305.01 142.6,304.47 143.28,304.17 143.97,304.21 144.66,304.34 145.33,304.56 145.98,304.56 146.6,304.36 147.24,303.85 147.78,303.31 148.33,302.76 148.97,302.27 149.8,301.98 150.32,301.93 150.9,301.67 151.54,301.31 152.21,300.81 152.9,300.73 153.6,300.75 154.3,301.19 154.97,301.43 155.61,301.54 156.2,301.09 156.87,300.56 157.47,300.22 158.05,300.38 158.6,300.51 159.15,300.71 159.72,300.82 160.33,301.17 161,301.29 161.57,301.18 162.18,300.59 162.8,299.93 163.44,299.37 164.09,299.23 164.76,299.27 165.42,299.33 166.09,299.44 166.75,299.37 167.4,299.35 168.05,299.06 168.7,298.92 169.35,298.51 170,298.28 170.65,297.92 171.3,297.78 171.95,297.53 172.6,297.37 173.25,297.4 173.9,297.47 174.54,297.51 175.19,297 175.83,296.56 176.47,296.24 177.11,296.45 177.74,296.44 178.38,296.28 179.02,295.71 179.66,295.29 180.3,294.78 180.94,294.42 181.58,293.99 182.22,293.71 182.86,293.72 183.5,293.83 184.14,293.71 184.78,292.95 185.42,292.04 186.06,291.5 186.7,291.47 187.34,291.43 187.98,291.28 188.62,291.02 189.26,291 189.89,291.1 190.53,291.37 191.17,291.57 191.81,291.44 192.46,291.13 193.1,291.06 193.75,291.26 194.4,291.69 195.06,291.61 195.72,291.49 196.38,291.07 197.04,290.91 197.69,290.75 198.34,290.49 198.97,290.39 199.6,290.37 200.31,290.63 201.06,290.7 201.83,290.49 202.59,290.07 203.32,289.95 203.99,290.12 204.6,290.75 205.11,290.88 205.5,290.87" fill="none" stroke="#ff0000" stroke-width="1.6" stroke-linejoin="round" stroke-linecap="round" clip-path="url(#cc)"/><polyline points="101,338.16 101.6,336.66 102.4,334.97 103.19,333.98 104,333.74 104.7,335.58 105.6,336.88 106.15,336.13 106.8,334.89 107.5,333.05 108.19,331.23 108.8,329.7 109.44,328.49 109.99,327.41 110.56,326.64 111.2,326.45 111.8,327.12 112.46,328.57 113.14,330.05 113.83,331.03 114.5,331.25 115.15,330.62 115.79,329.74 116.42,328.46 117.06,327.13 117.7,325.63 118.35,324.51 119.02,323.34 119.68,322.66 120.31,322.36 120.9,322.55 121.73,324.19 122.47,326.31 123.3,327.54 123.9,327.09 124.56,326.15 125.24,324.87 125.9,323.55 126.5,322.37 127.16,320.78 127.75,319.19 128.32,318.18 128.9,318.12 129.48,319.75 130.05,322.17 130.64,324.51 131.3,325.24 131.88,324.52 132.48,323.28 133.12,321.75 133.8,320.61 134.5,319.62 135.12,320.1 135.77,320.73 136.44,322.02 137.13,322.63 137.82,323.35 138.5,323.19 139.2,322.74 139.92,321.48 140.65,320.2 141.36,318.73 142.01,317.88 142.6,317.21 143.26,317.31 143.76,317.68 144.27,318.65 145,318.99 145.49,318.87 146.03,318.69 146.62,318.56 147.25,318.57 147.89,318.13 148.54,317.65 149.18,317.17 149.8,316.84 150.47,316.78 151.12,316.52 151.77,316.04 152.43,315.11 153.11,314.56 153.83,314.71 154.6,315.11 155.19,315.4 155.83,315.27 156.5,315.27 157.2,315.25 157.9,315.17 158.59,315.09 159.26,315.14 159.9,315.23 160.48,315.27 161,315.26 161.82,315.42 162.43,315.24 162.95,315.05 163.5,314.83 164.2,315.01 164.73,315.02 165.31,315.15 165.92,315.52 166.55,316.15 167.2,316.62 167.84,316.77 168.48,316.81 169.1,317.06 169.7,317.28 170.31,317.28 170.91,316.86 171.51,316.2 172.1,315.46 172.7,314.94 173.3,314.78 173.9,314.97 174.59,315.12 175.27,315.09 175.96,314.9 176.64,314.78 177.33,314.8 178.01,314.86 178.7,314.91 179.29,314.76 179.88,314.68 180.46,314.57 181.05,314.6 181.64,314.21 182.24,313.77 182.86,313.53 183.5,313.76 184.09,313.95 184.69,313.72 185.31,313.45 185.93,313.19 186.57,313.29 187.2,313.16 187.84,313.32 188.47,313.28 189.1,313.41 189.73,313.21 190.36,313.14 190.99,313.15 191.63,313.66 192.26,314.36 192.89,314.98 193.5,315.31 194.11,315.51 194.7,315.7 195.34,315.66 195.95,315.27 196.54,314.82 197.13,314.5 197.72,314.23 198.32,313.84 198.94,313.29 199.6,312.9 200.24,312.74 200.96,312.85 201.71,312.96 202.48,312.88 203.23,312.65 203.93,312.45 204.57,312.35 205.1,312.3 205.5,312.14" fill="none" stroke="#0000ff" stroke-width="1.6" stroke-linejoin="round" stroke-linecap="round" clip-path="url(#cc)"/><polyline points="36.3,223.28 36.63,222.84 37.02,222.59 37.46,222.58 37.95,222.6 38.49,222.78 39.06,223.19 39.66,223.48 40.29,223.64 40.95,223.54 41.62,223.48 42.32,223.49 43.02,223.61 43.72,224.18 44.43,224.66 45.13,225.04 45.82,224.89 46.5,224.76 47.16,224.78 47.79,224.75 48.4,224.7 49.01,224.54 49.59,224.64 50.15,224.72 50.68,224.55 51.21,224.25 51.73,223.93 52.24,224.02 52.76,224.1 53.28,224.28 53.82,224.2 54.37,224.13 54.95,223.92 55.55,223.68 56.18,223.38 56.85,223 57.56,223.05 58.32,223.19 59.13,223.59 60,223.53 60.46,223.45 60.91,223.03 61.36,222.78 61.81,222.54 62.25,222.76 62.7,222.71 63.14,222.67 63.59,222.44 64.04,222.74 64.5,222.95 64.96,222.83 65.42,222.29 65.9,222.03 66.38,222.21 66.87,222.57 67.38,222.54 67.89,222.4 68.42,222.32 68.97,222.46 69.53,222.36 70.1,221.98 70.7,221.66 71.31,221.53 71.94,221.66 72.59,221.48 73.27,221.5 73.97,221.44 74.69,221.67 75.44,221.9 76.22,222.21 77.02,222.56 77.86,222.58 78.72,222.43 79.62,222.05 80.54,221.57 81.5,221.22 82.5,220.96 82.94,221.14 83.38,221.33 83.84,221.48 84.31,221.32 84.79,221.05 85.28,220.81 85.79,220.9 86.3,221.06 86.82,221.5 87.34,221.8 87.88,222.11 88.43,222.1 88.98,221.83 89.55,221.68 90.12,221.46 90.7,221.68 91.28,221.52 91.88,221.52 92.48,221.21 93.08,221.45 93.7,221.85 94.32,222.32 94.94,222.26 95.57,221.83 96.21,221.48 96.85,221.32 97.49,221.55 98.14,221.59 98.8,221.68 99.45,221.41 100.12,221.35 100.78,221.37 101.45,221.65 102.12,222 102.79,222.3 103.47,222.6 104.15,222.56 104.83,222.4 105.51,221.84 106.2,221.62 106.88,221.61 107.56,222.06 108.25,222.34 108.94,222.3 109.62,222.12 110.31,222.01 110.99,221.99 111.68,222.06 112.36,222.17 113.04,222.43 113.73,222.51 114.4,222.47 115.08,222.51 115.76,222.63 116.43,222.78 117.1,222.67 117.76,222.4 118.43,222 119.08,221.86 119.74,222.09 120.39,222.51 121.04,222.63 121.68,222.48 122.32,222.41 122.95,222.7 123.57,222.96 124.2,222.89 124.81,222.33 125.42,221.82 126.02,221.51 126.61,221.65 127.2,222.05 127.78,222.53 128.36,222.95 128.92,223.19 129.48,223.12 130.03,222.77 130.57,222.3 131.1,222.35 131.62,222.75 132.13,223.07 132.64,222.8 133.13,222.49 133.61,222.36 134.09,222.54 134.55,222.4 135,222.49 135.93,222.51 136.82,222.83 137.69,223 138.52,223.03 139.32,222.87 140.1,222.62 140.85,222.45 141.58,222.67 142.28,222.71 142.96,222.78 143.61,222.33 144.25,222.09 144.87,221.99 145.47,222.1 146.06,222.29 146.63,222.08 147.19,221.87 147.73,221.41 148.27,221.64 148.8,221.76 149.31,222.01 149.83,221.52 150.33,221.32 150.83,221.23 151.33,221.61 151.83,222.06 152.33,222.29 152.82,222.34 153.33,222.14 153.83,222.23 154.34,222.27 154.86,222.33 155.38,222.05 155.91,222.05 156.45,221.96 157.01,222.13 157.58,221.93 158.16,221.9 158.75,221.98 159.37,222.18 160,222.18 160.59,221.86 161.18,221.52 161.78,221.16 162.39,220.95 163.01,220.86 163.62,221.21 164.25,221.33 164.88,221.14 165.51,220.57 166.14,220.32 166.78,220.79 167.43,221.37 168.07,221.85 168.72,221.75 169.37,221.54 170.02,221.29 170.67,220.94 171.32,220.78 171.97,220.55 172.62,220.61 173.27,220.6 173.92,220.86 174.57,220.97 175.21,221.19 175.86,221.08 176.5,221.22 177.13,221.11 177.77,221.25 178.4,221.12 179.02,221.2 179.64,221.25 180.26,221.41 180.87,221.1 181.47,220.55 182.07,220.06 182.66,220.14 183.24,220.37 183.82,220.34 184.39,220.06 184.94,219.96 185.5,220.16 186.04,220.54 186.57,220.6 187.09,220.62 187.6,220.34 188.38,220.27 189.16,220.2 189.94,220.36 190.71,220.47 191.48,220.31 192.24,220.04 192.99,219.93 193.73,220.19 194.47,220.6 195.19,220.7 195.9,220.6 196.59,220.31 197.28,220.18 197.95,220.03 198.6,219.98 199.23,220.02 199.85,220.27 200.45,220.63 201.03,220.5 201.59,220.24 202.12,219.79 202.64,219.85 203.13,219.72 203.59,219.7 204.03,219.7 204.44,219.99 204.82,220.12 205.18,219.97 205.5,219.73" fill="none" stroke="#000" stroke-width="1.6" stroke-linejoin="round" stroke-linecap="round" clip-path="url(#cc)"/><rect x="36.3" y="216.4" width="169.2" height="120" fill="none" stroke="#7a7a7a" stroke-width="0.9"/><line x1="36.3" y1="216.4" x2="36.3" y2="336.9" stroke="#8a8a8a" stroke-width="1.5"/><line x1="36.3" y1="336.4" x2="205.5" y2="336.4" stroke="#4a4a4a" stroke-width="1.0"/><line x1="34.1" y1="217" x2="36.3" y2="217" stroke="#555" stroke-width="0.9"/><text transform="translate(32.7 220.35) scale(0.97 1)" x="0" y="0" font-size="9.4" text-anchor="end" font-weight="normal" fill="#1a1a1a">-3</text><line x1="34.1" y1="239.2" x2="36.3" y2="239.2" stroke="#555" stroke-width="0.9"/><text transform="translate(32.7 242.55) scale(0.97 1)" x="0" y="0" font-size="9.4" text-anchor="end" font-weight="normal" fill="#1a1a1a">-8</text><line x1="34.1" y1="261.3" x2="36.3" y2="261.3" stroke="#555" stroke-width="0.9"/><text transform="translate(32.7 264.65) scale(0.97 1)" x="0" y="0" font-size="9.4" text-anchor="end" font-weight="normal" fill="#1a1a1a">-13</text><line x1="34.1" y1="283.4" x2="36.3" y2="283.4" stroke="#555" stroke-width="0.9"/><text transform="translate(32.7 286.75) scale(0.97 1)" x="0" y="0" font-size="9.4" text-anchor="end" font-weight="normal" fill="#1a1a1a">-18</text><line x1="34.1" y1="305.5" x2="36.3" y2="305.5" stroke="#555" stroke-width="0.9"/><text transform="translate(32.7 308.85) scale(0.97 1)" x="0" y="0" font-size="9.4" text-anchor="end" font-weight="normal" fill="#1a1a1a">-23</text><line x1="34.1" y1="327.6" x2="36.3" y2="327.6" stroke="#555" stroke-width="0.9"/><text transform="translate(32.7 330.95) scale(0.97 1)" x="0" y="0" font-size="9.4" text-anchor="end" font-weight="normal" fill="#1a1a1a">-28</text><line x1="37" y1="336.4" x2="37" y2="338.6" stroke="#555" stroke-width="0.9"/><text transform="translate(37 347.3) scale(0.92 1)" x="0" y="0" font-size="9.3" text-anchor="middle" font-weight="normal" fill="#1a1a1a">1530</text><line x1="79" y1="336.4" x2="79" y2="338.6" stroke="#555" stroke-width="0.9"/><text transform="translate(79 347.3) scale(0.92 1)" x="0" y="0" font-size="9.3" text-anchor="middle" font-weight="normal" fill="#1a1a1a">1540</text><line x1="121" y1="336.4" x2="121" y2="338.6" stroke="#555" stroke-width="0.9"/><text transform="translate(121 347.3) scale(0.92 1)" x="0" y="0" font-size="9.3" text-anchor="middle" font-weight="normal" fill="#1a1a1a">1550</text><line x1="163" y1="336.4" x2="163" y2="338.6" stroke="#555" stroke-width="0.9"/><text transform="translate(163 347.3) scale(0.92 1)" x="0" y="0" font-size="9.3" text-anchor="middle" font-weight="normal" fill="#1a1a1a">1560</text><line x1="205" y1="336.4" x2="205" y2="338.6" stroke="#555" stroke-width="0.9"/><text transform="translate(205 347.3) scale(0.92 1)" x="0" y="0" font-size="9.3" text-anchor="middle" font-weight="normal" fill="#1a1a1a">1570</text><line x1="43.1" y1="231" x2="61.5" y2="231" stroke="#000" stroke-width="1.6"/><text x="64.6" y="234.4" font-size="9" fill="#1a1a1a">I</text><text x="66.8" y="237" font-size="6.4" fill="#1a1a1a">0</text><line x1="71" y1="231.9" x2="77.4" y2="231.9" stroke="#666" stroke-width="0.8"/><path d="M76.5,230.5 L78.9,231.9 L76.5,233.3 Z" fill="#333"/><text x="79" y="234.4" font-size="9" fill="#1a1a1a">O</text><text x="86.5" y="237" font-size="6.4" fill="#1a1a1a">0</text><line x1="43.1" y1="244.7" x2="61.5" y2="244.7" stroke="#ff0000" stroke-width="1.6"/><text x="64.6" y="248.1" font-size="9" fill="#1a1a1a">I</text><text x="66.8" y="250.7" font-size="6.4" fill="#1a1a1a">0</text><line x1="71" y1="245.6" x2="77.4" y2="245.6" stroke="#666" stroke-width="0.8"/><path d="M76.5,244.2 L78.9,245.6 L76.5,247 Z" fill="#333"/><text x="79" y="248.1" font-size="9" fill="#1a1a1a">O</text><text x="86.5" y="250.7" font-size="6.4" fill="#1a1a1a">1</text><line x1="43.1" y1="258.5" x2="61.5" y2="258.5" stroke="#0000ff" stroke-width="1.6"/><text x="64.6" y="261.9" font-size="9" fill="#1a1a1a">I</text><text x="66.8" y="264.5" font-size="6.4" fill="#1a1a1a">0</text><line x1="71" y1="259.4" x2="77.4" y2="259.4" stroke="#666" stroke-width="0.8"/><path d="M76.5,258 L78.9,259.4 L76.5,260.8 Z" fill="#333"/><text x="79" y="261.9" font-size="9" fill="#1a1a1a">O</text><text x="86.5" y="264.5" font-size="6.4" fill="#1a1a1a">2</text><text x="87.2" y="301.6" font-size="9.2" text-anchor="middle" font-weight="normal" fill="#1a1a1a">20.7 dB</text><polygon points="120.4,306.8 118.7,310.46 114.68,310.1 117,313.4 114.68,316.7 118.7,316.34 120.4,320 122.1,316.34 126.12,316.7 123.8,313.4 126.12,310.1 122.1,310.46" fill="#3b97d3"/><text x="16.5" y="278" font-size="9.1" text-anchor="middle" font-weight="normal" fill="#1a1a1a" transform="rotate(-90 16.5 278)">Transmission(dB)</text><text x="122.2" y="356.3" font-size="9.3" text-anchor="middle" font-weight="normal" fill="#1a1a1a">Wavelength(nm)</text><text x="9.1" y="220.2" font-size="9.5" text-anchor="start" font-weight="bold" fill="#111">c</text><clipPath id="cd"><rect x="267.5" y="216" width="169.7" height="120.4"/></clipPath><rect x="267.5" y="216" width="169.7" height="120.4" fill="#fff"/><polyline points="267.5,221.41 267.82,221.57 268.16,221.81 268.52,221.84 268.91,221.75 269.32,221.35 269.75,221.13 270.2,220.91 270.67,220.98 271.16,221.16 271.66,221.42 272.19,221.79 272.73,222.08 273.28,222.12 273.85,221.78 274.44,221.27 275.04,221.05 275.65,221.12 276.27,221.36 276.91,221.38 277.55,221.2 278.21,220.97 278.87,220.95 279.54,220.91 280.22,220.85 280.91,220.82 281.6,220.95 282.3,221.17 283,221.46 283.71,221.67 284.41,221.74 285.13,221.44 285.84,221.36 286.55,221.36 287.26,221.72 287.98,221.67 288.69,221.59 289.4,221.22 290.1,221.11 290.81,221.08 291.5,221.22 292.2,221.47 292.88,221.75 293.56,221.92 294.24,222 294.9,222.04 295.55,222.16 296.2,222.2 296.78,222.1 297.37,222.03 297.96,221.92 298.55,222.02 299.15,222.01 299.75,222.03 300.36,221.92 300.97,221.87 301.58,221.73 302.2,221.81 302.82,221.89 303.44,222.3 304.06,222.46 304.69,222.64 305.32,222.57 305.94,222.59 306.57,222.61 307.21,222.49 307.84,222.36 308.47,222.27 309.1,222.53 309.74,222.9 310.37,223.25 311,223.43 311.64,223.61 312.27,223.46 312.9,223.26 313.53,222.56 314.16,222.35 314.78,222.22 315.41,222.9 316.03,223.26 316.65,223.38 317.27,223.09 317.89,222.81 318.5,222.8 319.11,222.69 319.71,222.85 320.31,223.02 320.91,223.34 321.51,223.26 322.1,223.31 322.68,223.31 323.26,223.72 323.84,223.82 324.41,223.96 324.97,223.93 325.53,223.86 326.08,223.74 326.63,223.64 327.17,223.85 327.7,224.09 328.4,224.3 329.1,224.25 329.8,224.27 330.48,224.34 331.17,224.41 331.84,224.33 332.52,224.32 333.18,224.41 333.85,224.65 334.5,225.03 335.15,225.4 335.8,225.81 336.44,225.69 337.08,225.35 337.71,224.96 338.33,224.85 338.95,225.01 339.57,225.13 340.18,225.38 340.78,225.54 341.38,225.62 341.98,225.7 342.57,225.79 343.15,225.87 343.73,225.74 344.3,225.53 344.87,225.51 345.44,225.61 345.99,225.75 346.55,225.97 347.1,226.16 347.64,226.33 348.18,226.25 348.71,226.13 349.24,226.08 349.76,226 350.28,226.14 350.79,226.04 351.3,226.09 352.04,225.73 352.74,225.58 353.41,225.33 354.06,225.54 354.67,225.92 355.26,226.5 355.84,226.72 356.39,226.46 356.94,225.98 357.47,225.83 357.99,225.86 358.51,225.88 359.03,225.59 359.55,225.39 360.08,225.1 360.61,225.04 361.16,225.21 361.72,225.68 362.3,226.09 362.9,226.23 363.52,226.14 364.17,226.04 364.85,225.65 365.56,225.41 366.31,225.17 367.1,225.33 367.59,225.37 368.1,225.5 368.61,225.36 369.13,225.23 369.67,224.88 370.21,224.61 370.75,224.27 371.31,224.15 371.87,224.07 372.44,224.34 373.02,224.51 373.61,224.69 374.2,224.61 374.79,224.59 375.39,224.37 376,224.31 376.62,224.04 377.23,224.15 377.86,224.01 378.48,224.06 379.11,223.79 379.75,223.81 380.39,223.73 381.03,223.73 381.67,223.46 382.32,223.38 382.97,223.45 383.62,223.51 384.27,223.36 384.92,223.18 385.58,223.1 386.23,223.22 386.89,223.25 387.54,223.39 388.2,223.24 388.85,223.22 389.51,223.1 390.16,223.27 390.81,223.12 391.46,222.88 392.11,222.47 392.76,222.32 393.4,222.28 393.98,222.32 394.57,222.4 395.16,222.58 395.76,222.7 396.37,222.73 396.98,222.69 397.6,222.75 398.23,222.65 398.86,222.26 399.49,221.77 400.13,221.52 400.77,221.66 401.41,221.77 402.06,221.76 402.71,221.6 403.36,221.58 404.01,221.51 404.66,221.6 405.31,221.49 405.97,221.79 406.62,221.9 407.27,222.05 407.92,221.64 408.56,221.26 409.21,220.69 409.85,220.4 410.49,220.13 411.12,220.28 411.75,220.4 412.37,220.65 412.99,220.57 413.61,220.55 414.22,220.27 414.82,220.28 415.41,220.23 416,220.54 416.58,220.6 417.15,220.78 417.71,220.71 418.26,220.82 418.81,220.64 419.34,220.27 419.86,219.75 420.37,219.66 420.87,219.72 421.36,219.98 421.84,219.74 422.3,219.96 423.2,220.05 424.08,220.33 424.93,220.04 425.77,219.76 426.57,219.68 427.36,219.79 428.12,219.88 428.86,219.79 429.57,219.88 430.26,220.06 430.92,220.37 431.56,220.45 432.17,220.53 432.76,220.47 433.32,220.49 433.86,220.35 434.37,220.31 434.85,220.33 435.31,220.32 435.74,220.44 436.15,220.59 436.52,221.17 436.88,221.42 437.2,221.6" fill="none" stroke="#ff0000" stroke-width="1.45" stroke-linejoin="round" stroke-linecap="round" clip-path="url(#cd)"/><polyline points="267.5,320.93 267.98,321.35 268.66,322.52 269.46,323.58 270.3,324.84 270.89,325.03 271.54,324.94 272.22,324.24 272.9,323.69 273.57,323.25 274.2,323.19 274.91,323.77 275.6,324.87 276.26,326.31 276.89,327.53 277.5,328.34 278.17,328.18 278.76,327.35 279.37,326.16 280.1,325.53 280.69,325.63 281.36,326.22 282.06,327.27 282.77,328.34 283.46,329.34 284.1,329.64 284.78,329.64 285.4,329.2 286,328.57 286.62,327.79 287.3,327.09 287.92,326.75 288.58,326.24 289.26,326.21 289.94,326.13 290.63,325.97 291.3,325.33 291.97,324.8 292.66,324.75 293.34,324.86 294,325.04 294.63,325.17 295.2,325.32 295.91,325.73 296.49,326.36 297.08,327.25 297.8,327.98 298.37,328.41 298.99,328.99 299.64,329.73 300.33,330.38 301.05,330.9 301.8,331.31 302.41,331.55 303.06,331.53 303.75,331.32 304.44,331.06 305.14,330.64 305.81,330.37 306.43,330.1 307,330.18 307.78,330 308.46,329.83 309.07,329.63 309.67,329.46 310.3,329.35 310.96,328.97 311.62,328.43 312.28,327.69 312.94,326.96 313.6,326.4 314.24,326.39 314.86,327 315.49,327.97 316.16,328.86 316.9,329.42 317.51,329.37 318.18,328.56 318.89,327.37 319.6,326.01 320.29,325.28 320.94,324.51 321.5,323.96 322.24,323.9 322.8,324.76 323.36,326.17 324.1,326.92 324.66,326.98 325.31,326.08 326,325 326.71,323.81 327.42,322.95 328.09,322.06 328.7,321.2 329.43,320.94 330.08,321.64 330.69,323.34 331.32,324.93 332,325.83 332.61,325.71 333.24,325.24 333.88,324.67 334.55,323.96 335.26,323.54 336,323.53 336.6,323.95 337.25,324.28 337.92,324.16 338.61,323.83 339.29,323.26 339.96,322.81 340.6,322.13 341.2,321.51 341.93,320.7 342.62,320.38 343.27,320.27 343.89,320.49 344.5,320.52 345.1,320.37 345.8,320 346.45,319.66 347.09,319.5 347.74,319.44 348.4,319.24 349.05,319.03 349.68,318.88 350.34,318.92 351.06,319.23 351.9,319.43 352.43,319.66 353.02,319.51 353.64,319.63 354.29,319.72 354.95,320.15 355.61,320.04 356.27,319.67 356.9,319.19 357.5,319.06 358.15,318.95 358.79,318.35 359.42,317.39 360.03,316.46 360.63,316.01 361.21,315.76 361.77,315.38 362.3,314.86 363.08,314.9 363.79,315.85 364.46,317.25 365.12,318.68 365.8,319.39 366.5,319.25 367.2,318.34 367.91,317.58 368.61,317.11 369.3,317.14 369.97,317.48 370.63,318.28 371.29,319.29 371.97,320.12 372.7,320.04 373.34,319.23 373.99,317.7 374.67,316.08 375.37,314.2 376.12,312.83 376.9,311.81 377.46,311.34 378.06,310.43 378.69,309.58 379.33,309.13 379.97,308.94 380.61,308.76 381.24,308.27 381.84,307.88 382.4,307.31 383.06,307.21 383.65,307.65 384.22,308.63 384.77,309.46 385.34,309.83 385.94,309.76 386.6,309.68 387.17,309.61 387.78,309.91 388.42,310.02 389.08,310.11 389.74,309.9 390.39,309.77 391.03,309.54 391.64,309.37 392.2,309.16 392.95,309.01 393.62,308.88 394.25,308.65 394.88,308.21 395.55,307.66 396.3,307.4 396.86,307.24 397.47,306.96 398.11,306.2 398.77,305.53 399.43,304.98 400.09,304.75 400.73,304.5 401.34,304.26 401.9,304.02 402.66,303.93 403.35,303.85 403.99,303.9 404.63,303.86 405.29,304 406,304.13 406.57,304.65 407.17,305.43 407.78,306.24 408.41,306.56 409.03,306.66 409.66,306.84 410.29,307.24 410.9,307.37 411.5,307.07 412.09,306.34 412.67,305.58 413.26,304.77 413.85,304.07 414.45,303.21 415.06,302.47 415.7,301.88 416.3,301.68 416.93,301.67 417.59,301.44 418.25,301.17 418.91,300.75 419.56,300.55 420.18,300.31 420.77,300.34 421.3,300.44 422.12,300.68 422.82,300.62 423.46,300.73 424.1,300.99 424.8,301.72 425.46,302.49 426.14,303.3 426.85,303.9 427.56,304.16 428.24,304.23 428.9,304.15 429.62,304.14 430.28,304.08 430.94,304.05 431.63,303.87 432.4,303.68 432.97,303.71 433.62,303.62 434.32,303.56 435.02,303.16 435.69,303.07 436.31,303.07 436.82,303.27 437.2,303.24" fill="none" stroke="#0000ff" stroke-width="1.45" stroke-linejoin="round" stroke-linecap="round" clip-path="url(#cd)"/><polyline points="330,339.7 330.5,339.09 331.21,337.94 332,336 332.61,333.62 333.26,331.07 333.93,328.91 334.6,328.33 335.26,329.54 335.91,332.16 336.59,334.25 337.3,334.91 337.92,333.76 338.57,331.96 339.23,329.81 339.88,327.71 340.5,326.31 341.23,326.14 341.93,327.25 342.59,328.48 343.2,329.33 343.86,328.47 344.44,327 345.1,325.9 345.75,326.19 346.48,327.04 347.2,328.19 347.8,328.76 348.5,327.9 349.2,326.76 349.73,327.2 350.33,327.95 351.04,328.47 351.9,328.38 352.42,327.89 353.02,327.26 353.67,326.13 354.34,324.76 355.02,323.47 355.67,322.39 356.27,321.88 356.8,321.5 357.65,321.92 358.34,322.8 358.96,324.03 359.6,325.1 360.28,326.59 360.95,328.37 361.62,329.89 362.3,330.38 363.01,329.36 363.74,327.11 364.45,324.72 365.1,323.4 365.8,324.31 366.42,326.83 367.2,328.49 367.85,328.64 368.6,328.08 369.39,327.25 370.12,326.2 370.7,325.33 371.35,321.52 372,318.52 372.56,318.38 373.24,319.06 373.99,320.24 374.76,321.74 375.5,322.54 376.2,321.92 376.9,320.12 377.61,317.96 378.31,316.3 379,315.59 379.7,316.24 380.4,317.41 381.09,318.81 381.76,319.59 382.4,319.94 383.13,320.26 383.79,320.86 384.46,321.28 385.2,320.93 385.86,319.82 386.55,318.14 387.27,316.66 387.99,315.47 388.7,314.95 389.42,315.23 390.17,316.35 390.91,317.87 391.6,319.51 392.2,320.51 392.95,320.22 393.53,318.71 394.2,317.36 394.83,316.39 395.51,315.63 396.23,315.13 397,315.64 397.67,316.69 398.38,318.26 399.12,319.61 399.83,320.7 400.5,321.23 401.24,320.81 401.91,319.4 402.57,317.9 403.3,316.94 403.94,316.8 404.61,316.61 405.3,316.4 406,316.49 406.7,316.97 407.38,318.09 408.06,319.32 408.75,320.48 409.46,321.4 410.2,322 410.83,321.91 411.47,321.28 412.12,320.29 412.8,319.47 413.52,318.79 414.3,318.49 414.86,318.42 415.46,318.49 416.08,318.41 416.72,318.17 417.38,317.9 418.03,317.62 418.67,317.59 419.3,317.41 419.9,317.43 420.55,317.23 421.18,316.91 421.79,316.25 422.4,315.55 423,314.97 423.6,314.58 424.2,314.57 424.8,314.86 425.41,315.41 426.02,315.94 426.63,316.38 427.24,316.7 427.85,316.89 428.44,317.1 429.03,317.43 429.6,317.8 430.34,317.79 431.07,317.38 431.79,316.59 432.48,315.99 433.15,315.55 433.8,315.62 434.59,315.94 435.38,316.25 436.12,316.48 436.75,316.34 437.2,316.24" fill="none" stroke="#000" stroke-width="1.45" stroke-linejoin="round" stroke-linecap="round" clip-path="url(#cd)"/><rect x="267.5" y="216" width="169.7" height="120.4" fill="none" stroke="#7a7a7a" stroke-width="0.9"/><line x1="267.5" y1="216" x2="267.5" y2="336.9" stroke="#555" stroke-width="1.0"/><line x1="267.5" y1="336.4" x2="437.2" y2="336.4" stroke="#4a4a4a" stroke-width="1.0"/><line x1="265.3" y1="216.3" x2="267.5" y2="216.3" stroke="#555" stroke-width="0.9"/><text transform="translate(263.9 219.65) scale(0.97 1)" x="0" y="0" font-size="9.4" text-anchor="end" font-weight="normal" fill="#1a1a1a">-6</text><line x1="265.3" y1="243" x2="267.5" y2="243" stroke="#555" stroke-width="0.9"/><text transform="translate(263.9 246.35) scale(0.97 1)" x="0" y="0" font-size="9.4" text-anchor="end" font-weight="normal" fill="#1a1a1a">-12</text><line x1="265.3" y1="269.5" x2="267.5" y2="269.5" stroke="#555" stroke-width="0.9"/><text transform="translate(263.9 272.85) scale(0.97 1)" x="0" y="0" font-size="9.4" text-anchor="end" font-weight="normal" fill="#1a1a1a">-18</text><line x1="265.3" y1="296.2" x2="267.5" y2="296.2" stroke="#555" stroke-width="0.9"/><text transform="translate(263.9 299.55) scale(0.97 1)" x="0" y="0" font-size="9.4" text-anchor="end" font-weight="normal" fill="#1a1a1a">-24</text><line x1="265.3" y1="322.8" x2="267.5" y2="322.8" stroke="#555" stroke-width="0.9"/><text transform="translate(263.9 326.15) scale(0.97 1)" x="0" y="0" font-size="9.4" text-anchor="end" font-weight="normal" fill="#1a1a1a">-30</text><line x1="267.3" y1="336.4" x2="267.3" y2="338.6" stroke="#555" stroke-width="0.9"/><text transform="translate(267.3 347.3) scale(0.92 1)" x="0" y="0" font-size="9.3" text-anchor="middle" font-weight="normal" fill="#1a1a1a">1530</text><line x1="309.73" y1="336.4" x2="309.73" y2="338.6" stroke="#555" stroke-width="0.9"/><text transform="translate(309.73 347.3) scale(0.92 1)" x="0" y="0" font-size="9.3" text-anchor="middle" font-weight="normal" fill="#1a1a1a">1540</text><line x1="352.15" y1="336.4" x2="352.15" y2="338.6" stroke="#555" stroke-width="0.9"/><text transform="translate(352.15 347.3) scale(0.92 1)" x="0" y="0" font-size="9.3" text-anchor="middle" font-weight="normal" fill="#1a1a1a">1550</text><line x1="394.57" y1="336.4" x2="394.57" y2="338.6" stroke="#555" stroke-width="0.9"/><text transform="translate(394.57 347.3) scale(0.92 1)" x="0" y="0" font-size="9.3" text-anchor="middle" font-weight="normal" fill="#1a1a1a">1560</text><line x1="437" y1="336.4" x2="437" y2="338.6" stroke="#555" stroke-width="0.9"/><text transform="translate(437 347.3) scale(0.92 1)" x="0" y="0" font-size="9.3" text-anchor="middle" font-weight="normal" fill="#1a1a1a">1570</text><line x1="274.2" y1="230.8" x2="292.6" y2="230.8" stroke="#000" stroke-width="1.6"/><text x="295.3" y="234.44" font-size="9" fill="#1a1a1a">I</text><text x="297.65" y="237.22" font-size="6.85" fill="#1a1a1a">1</text><line x1="302.15" y1="231.76" x2="309" y2="231.76" stroke="#666" stroke-width="0.86"/><path d="M308.03,230.27 L310.6,231.76 L308.03,233.26 Z" fill="#333"/><text x="310.71" y="234.44" font-size="9" fill="#1a1a1a">O</text><text x="318.73" y="237.22" font-size="6.85" fill="#1a1a1a">0</text><line x1="274.2" y1="244.9" x2="292.6" y2="244.9" stroke="#ff0000" stroke-width="1.6"/><text x="295.3" y="248.54" font-size="9" fill="#1a1a1a">I</text><text x="297.65" y="251.32" font-size="6.85" fill="#1a1a1a">1</text><line x1="302.15" y1="245.86" x2="309" y2="245.86" stroke="#666" stroke-width="0.86"/><path d="M308.03,244.37 L310.6,245.86 L308.03,247.36 Z" fill="#333"/><text x="310.71" y="248.54" font-size="9" fill="#1a1a1a">O</text><text x="318.73" y="251.32" font-size="6.85" fill="#1a1a1a">1</text><line x1="274.2" y1="258.3" x2="292.6" y2="258.3" stroke="#0000ff" stroke-width="1.6"/><text x="295.3" y="261.94" font-size="9" fill="#1a1a1a">I</text><text x="297.65" y="264.72" font-size="6.85" fill="#1a1a1a">1</text><line x1="302.15" y1="259.26" x2="309" y2="259.26" stroke="#666" stroke-width="0.86"/><path d="M308.03,257.76 L310.6,259.26 L308.03,260.76 Z" fill="#333"/><text x="310.71" y="261.94" font-size="9" fill="#1a1a1a">O</text><text x="318.73" y="264.72" font-size="6.85" fill="#1a1a1a">2</text><text x="321.5" y="311.2" font-size="9.2" text-anchor="middle" font-weight="normal" fill="#1a1a1a">21.7 dB</text><polygon points="351.6,316 349.9,319.66 345.88,319.3 348.2,322.6 345.88,325.9 349.9,325.54 351.6,329.2 353.3,325.54 357.32,325.9 355,322.6 357.32,319.3 353.3,319.66" fill="#3b97d3"/><text x="353.6" y="356.8" font-size="9.3" text-anchor="middle" font-weight="normal" fill="#1a1a1a">Wavelength(nm)</text><text x="233.5" y="220.2" font-size="9.5" text-anchor="start" font-weight="bold" fill="#111">d</text><clipPath id="ce"><rect x="498.5" y="216" width="169.8" height="120.5"/></clipPath><rect x="498.5" y="216" width="169.8" height="120.5" fill="#fff"/><polyline points="498.5,318.3 498.92,319.57 499.51,321.03 500.2,322.5 500.94,323.91 501.66,325.02 502.3,325.73 502.98,325.74 503.62,324.97 504.24,323.6 504.86,322.31 505.5,321.81 506.15,322.79 506.81,324.69 507.48,326.71 508.14,328.28 508.8,328.72 509.45,328.14 510.09,326.57 510.73,325.08 511.4,323.84 512.1,323.66 512.74,324.04 513.41,324.62 514.11,325.25 514.8,326.18 515.47,327.22 516.1,328 516.78,328.01 517.4,327.56 518,326.83 518.62,326.51 519.3,326.36 519.92,326.66 520.58,326.79 521.26,327.29 521.94,328.04 522.63,329.08 523.3,329.82 523.95,330.07 524.58,329.99 525.21,329.81 525.85,329.64 526.51,329.61 527.2,329.91 527.83,330.81 528.5,332.24 529.19,333.85 529.88,335.3 530.56,336.34 531.2,336.78 531.8,336.74 532.53,335.99 533.18,335.03 533.8,333.75 534.42,332.71 535.1,331.82 535.71,331.61 536.35,331.51 537.01,331.56 537.67,331.77 538.34,332.22 539,332.6 539.66,332.37 540.33,331.64 541,331.01 541.67,330.56 542.34,330.27 543,329.43 543.67,328.37 544.35,327.31 545.03,326.85 545.69,327.02 546.32,327.29 546.9,327.31 547.63,327.1 548.25,327.16 548.87,327.44 549.6,327.66 550.18,327.63 550.81,327.26 551.47,326.87 552.16,326.09 552.84,325.92 553.5,326.25 554.15,327.98 554.8,330.08 555.44,332.4 556.09,334.37 556.74,335.95 557.4,336.67 558.06,336.37 558.73,335.28 559.4,333.83 560.07,332.23 560.74,330.75 561.4,329.78 562.05,329.24 562.68,328.99 563.31,328.61 563.95,328.35 564.61,327.98 565.3,327.74 565.93,327.26 566.6,326.82 567.29,326.44 567.98,326.17 568.66,325.91 569.3,325.39 569.9,325.09 570.63,325.19 571.28,325.85 571.9,326.76 572.52,327.54 573.2,328.21 573.83,328.22 574.49,328.06 575.17,327.38 575.85,326.66 576.5,325.79 577.1,325.08 577.9,324.54 578.63,324.52 579.32,324.79 580,324.8 580.65,324.19 581.27,323.19 581.91,322.69 582.6,322.85 583.2,323.55 583.84,324.35 584.5,325.29 585.18,326.25 585.9,326.91 586.54,327.15 587.21,327.52 587.91,328.05 588.6,328.71 589.27,329.11 589.9,329.14 590.58,328.55 591.2,327.21 591.8,325.87 592.42,324.66 593.1,324.47 593.74,324.9 594.43,325.92 595.14,326.98 595.84,328.05 596.51,328.83 597.1,329.1 597.86,328.29 598.53,326.65 599.13,324.77 599.7,323.35 600.39,322.14 601.01,321.33 601.7,321.22 602.29,321.65 602.92,322.71 603.59,323.19 604.3,323.2 604.92,322.28 605.57,321.1 606.25,319.64 606.93,317.87 607.6,316.49 608.26,316.05 608.92,316.89 609.58,318.29 610.24,319.54 610.9,319.85 611.55,319.03 612.19,317.79 612.84,316.54 613.5,315.56 614.2,314.9 614.82,314.93 615.46,315.41 616.11,316.37 616.78,317.65 617.44,318.95 618.1,319.59 618.75,319.43 619.4,318.66 620.04,318.09 620.69,317.3 621.34,316.51 622,315.57 622.65,315.17 623.28,315.2 623.92,315.42 624.57,315.6 625.26,315.64 626,315.61 626.59,315.46 627.21,315.13 627.86,314.47 628.52,313.73 629.19,313.04 629.86,312.43 630.54,311.85 631.2,311.51 631.86,311.62 632.53,311.89 633.21,312.14 633.89,312.53 634.56,313.13 635.22,313.34 635.87,312.88 636.5,312.32 637.19,312.07 637.87,312.19 638.52,311.93 639.17,311.45 639.81,310.88 640.45,310.5 641.1,310.27 641.75,310.01 642.4,309.9 643.04,309.99 643.69,310.12 644.34,310.11 645.01,309.75 645.7,309.43 646.32,309.31 646.96,309.07 647.6,309.02 648.26,308.8 648.92,308.94 649.58,308.73 650.24,308.54 650.9,307.95 651.56,307.7 652.22,307.56 652.88,307.93 653.54,308.08 654.21,308.11 654.87,307.89 655.54,307.88 656.2,307.85 656.85,307.71 657.49,307.19 658.12,306.72 658.76,306.26 659.4,306.01 660.07,305.86 660.77,305.84 661.5,305.86 662.09,305.6 662.74,305.55 663.43,305.21 664.15,305.36 664.87,305.21 665.58,305.51 666.26,305.68 666.9,305.91 667.46,305.98 667.93,305.83 668.3,305.94" fill="none" stroke="#ff0000" stroke-width="1.8" stroke-linejoin="round" stroke-linecap="round" clip-path="url(#ce)"/><polyline points="498.5,302.26 499.14,301.76 500.04,301.08 500.9,300.95 501.55,301.65 502.15,302.7 502.9,303.41 503.49,303.59 504.16,303.93 504.87,304.54 505.56,305.01 506.2,305.29 506.91,305.04 507.58,304.57 508.21,303.97 508.8,303.78 509.49,304.32 510.11,305.62 510.8,306.4 511.39,306.81 512.02,306.81 512.69,306.99 513.4,306.71 514.02,306.57 514.67,306.38 515.35,306.87 516.03,307.2 516.7,307.74 517.36,308.12 518.02,308.9 518.68,309.62 519.34,310.16 520,310.57 520.65,310.56 521.29,310.39 521.94,310.06 522.6,309.76 523.3,309.51 523.92,309.28 524.58,309.41 525.25,309.72 525.92,310.28 526.58,310.83 527.2,311.48 527.88,311.73 528.5,311.57 529.12,310.91 529.77,310.04 530.5,309.41 531.11,309.18 531.78,309.65 532.49,310.22 533.2,310.82 533.89,311.13 534.54,311.49 535.1,311.92 535.89,312.07 536.52,311.69 537.09,310.87 537.7,310.27 538.37,309.6 539.05,308.7 539.73,307.73 540.4,307.43 541.03,308.34 541.62,310.36 542.26,312.23 543,313.26 543.58,312.69 544.23,311.49 544.91,309.78 545.6,308.08 546.27,306.75 546.9,306.48 547.59,307.72 548.23,309.84 548.86,311.83 549.5,313.18 550.2,313.63 550.84,313.09 551.53,311.95 552.24,310.43 552.94,308.67 553.61,307.21 554.2,306.33 554.96,306.96 555.62,308.69 556.23,311.03 556.8,313.08 557.49,315.31 558.11,317.1 558.8,317.92 559.41,317.23 560.06,316.06 560.74,314.68 561.4,314.19 562.05,314.51 562.7,315.37 563.35,316.05 564,316.31 564.66,316.05 565.34,315.6 565.99,314.88 566.6,314.13 567.29,313.05 567.91,311.84 568.6,311.01 569.19,310.58 569.82,310.6 570.49,310.8 571.2,311.49 571.83,312.16 572.5,313.39 573.2,314.67 573.87,315.89 574.5,316.4 575.17,315.82 575.76,314.66 576.37,313.33 577.1,312.55 577.69,312.36 578.33,312.38 579.02,312.28 579.72,311.97 580.42,311.31 581.1,310.82 581.77,310.35 582.44,310.11 583.12,309.67 583.78,309.39 584.41,309.26 585,309.5 585.82,309.78 586.57,310.17 587.26,310.46 587.9,310.73 588.59,311.24 589.18,311.89 589.9,312.36 590.46,312.45 591.09,312.53 591.76,312.64 592.43,312.64 593.1,312.27 593.75,311.82 594.41,311.55 595.08,311.74 595.74,312.1 596.4,312.33 597.04,311.97 597.66,311.28 598.29,310.42 598.96,309.91 599.7,309.21 600.3,308.92 600.96,308.06 601.65,307.48 602.35,306.53 603.04,305.76 603.7,304.91 604.3,304.15 605.04,304.13 605.71,304.65 606.34,305.57 606.96,305.68 607.6,305.13 608.25,304.2 608.89,303.39 609.54,302.92 610.2,302.39 610.9,302.01 611.51,302.01 612.13,302.43 612.77,303.15 613.43,303.54 614.1,303.75 614.8,303.74 615.43,303.55 616.08,303.06 616.75,302.16 617.43,301.47 618.11,300.56 618.77,299.92 619.4,299.36 620.09,299.36 620.76,299.73 621.4,300.19 622.04,300.7 622.71,301.09 623.4,301.23 624.04,301.03 624.71,300.39 625.4,299.64 626.1,298.91 626.77,298.19 627.41,297.51 628,296.91 628.71,296.75 629.31,296.99 629.89,297.63 630.49,298.27 631.2,298.7 631.79,298.53 632.43,298.15 633.1,297.5 633.8,296.61 634.49,295.8 635.16,295.08 635.8,294.92 636.49,294.89 637.13,295.44 637.76,295.82 638.4,296.29 639.07,296.48 639.8,296.73 640.41,296.52 641.06,296.07 641.75,295.12 642.44,294.64 643.14,294.06 643.81,293.75 644.43,293.11 645,292.47 645.78,292.19 646.46,292.68 647.07,293.68 647.67,294.59 648.3,294.82 648.92,294.69 649.5,293.97 650.09,293.16 650.77,292.14 651.6,291.86 652.16,291.93 652.79,292.1 653.47,291.86 654.19,291.91 654.91,291.93 655.63,292.22 656.31,292.08 656.94,292.06 657.5,291.95 658.32,291.66 658.98,291.03 659.56,290.07 660.14,289.18 660.8,288.42 661.42,288.1 662.07,287.92 662.73,288.01 663.4,288.22 664.06,288.46 664.7,288.57 665.5,288.79 666.33,289.03 667.13,289.43 667.82,289.87 668.3,290.38" fill="none" stroke="#000" stroke-width="1.8" stroke-linejoin="round" stroke-linecap="round" clip-path="url(#ce)"/><polyline points="498.5,221.15 498.82,221.01 499.16,221.02 499.53,221.32 499.92,221.75 500.33,221.94 500.76,222 501.21,221.83 501.68,221.56 502.17,221.34 502.68,221.24 503.21,221.57 503.76,221.58 504.32,221.33 504.9,220.71 505.5,220.49 506.11,220.7 506.74,221.15 507.39,221.57 508.04,221.69 508.71,221.75 509.4,221.7 510.09,221.75 510.8,221.9 511.52,222.08 512.25,222.46 512.99,222.45 513.73,222.29 514.49,221.78 515.26,221.56 516.03,221.62 516.81,221.9 517.6,222.08 518.4,221.97 519.2,221.71 520,221.66 520.49,221.78 520.99,222.05 521.5,222.08 522.01,222.02 522.53,221.86 523.06,221.87 523.59,221.9 524.14,221.91 524.68,221.69 525.24,221.64 525.8,221.72 526.36,221.95 526.93,221.98 527.51,221.97 528.09,222.03 528.68,222.4 529.27,222.81 529.87,223.1 530.47,223.06 531.07,222.68 531.68,222.35 532.29,222.03 532.9,222.09 533.52,221.92 534.14,221.79 534.77,221.57 535.4,221.8 536.02,221.96 536.66,222.03 537.29,221.73 537.93,221.9 538.56,222.37 539.2,222.73 539.84,222.33 540.48,221.69 541.12,221.39 541.76,221.64 542.41,221.98 543.05,222.39 543.69,222.78 544.33,223.04 544.97,223.03 545.61,223.04 546.25,223.17 546.89,223.37 547.53,223.32 548.17,223 548.8,222.75 549.43,222.65 550.06,222.99 550.69,222.91 551.31,222.63 551.94,222.16 552.56,222.05 553.17,222.14 553.79,222.22 554.39,222.33 555,222.59 555.6,222.77 556.2,223.02 556.8,222.95 557.4,222.94 557.99,222.84 558.59,222.95 559.18,222.92 559.77,222.81 560.36,222.59 560.95,222.59 561.54,222.59 562.13,222.59 562.72,222.66 563.3,222.83 563.89,222.77 564.47,222.39 565.06,222 565.64,221.96 566.23,222.25 566.81,222.41 567.4,222.62 567.98,222.4 568.57,222.29 569.15,221.95 569.74,222.14 570.32,222.47 570.91,222.84 571.5,222.85 572.09,222.63 572.68,222.45 573.27,222.35 573.86,222.33 574.45,222.29 575.05,222.3 575.64,222.34 576.24,222.39 576.84,222.62 577.44,222.76 578.05,222.79 578.65,222.37 579.26,221.97 579.87,221.8 580.48,221.89 581.09,222.05 581.71,222.16 582.33,222.04 582.95,221.73 583.58,221.15 584.2,221.11 584.83,221.37 585.47,221.72 586.1,221.8 586.75,221.74 587.39,221.73 588.04,221.89 588.69,222.05 589.34,222.21 590,221.93 590.56,221.59 591.13,221.3 591.7,221 592.28,220.73 592.87,220.52 593.46,220.74 594.06,221.03 594.66,221.21 595.27,221.43 595.89,221.77 596.51,221.84 597.13,221.58 597.76,220.97 598.4,220.87 599.03,221.04 599.67,221.16 600.32,221.09 600.97,220.61 601.62,220.71 602.27,220.51 602.92,220.73 603.58,220.65 604.24,220.99 604.9,221.15 605.56,221.22 606.22,221.18 606.88,221.12 607.54,221.17 608.21,221.28 608.87,221.4 609.53,221.57 610.19,221.42 610.85,221.41 611.51,220.98 612.17,220.89 612.82,220.67 613.47,220.8 614.12,220.86 614.77,220.7 615.42,220.32 616.06,219.88 616.7,219.73 617.33,219.82 617.96,219.69 618.59,219.73 619.21,219.9 619.82,220.6 620.43,220.83 621.04,220.81 621.64,220.22 622.24,220.03 622.82,220.08 623.4,220.42 623.98,220.68 624.55,220.71 625.11,220.78 625.66,220.41 626.2,220.15 626.74,219.82 627.27,220 627.79,220.04 628.3,220.12 628.8,220.27 629.29,220.38 629.77,220.52 630.25,220.44 630.71,220.76 631.16,220.88 631.6,220.76 632.57,220.34 633.5,220.1 634.38,220.18 635.22,220.35 636.01,220.45 636.77,220.22 637.49,219.77 638.17,219.19 638.83,219.19 639.46,219.45 640.06,220 640.64,220.15 641.19,220.29 641.73,220.37 642.26,220.67 642.77,220.83 643.27,221.02 643.76,221.09 644.25,221.43 644.73,221.49 645.22,221.47 645.71,220.91 646.2,220.49 646.7,219.85 647.21,219.86 647.73,219.9 648.27,220.43 648.82,220.53 649.4,220.77 650,220.74 650.62,220.89 651.26,221.1 651.92,221.45 652.59,221.77 653.27,221.83 653.96,221.81 654.66,221.56 655.36,221.24 656.07,221.08 656.79,221.06 657.5,221.2 658.21,221.2 658.91,221.49 659.61,221.85 660.3,222.19 660.98,222.22 661.65,222.06 662.3,221.67 662.94,221.27 663.56,221.2 664.16,221.49 664.73,221.82 665.29,221.76 665.81,221.5 666.31,221.34 666.78,221.32 667.21,221.58 667.61,221.53 667.98,221.68 668.3,221.52" fill="none" stroke="#0000ff" stroke-width="1.8" stroke-linejoin="round" stroke-linecap="round" clip-path="url(#ce)"/><rect x="498.5" y="216" width="169.8" height="120.5" fill="none" stroke="#7a7a7a" stroke-width="0.9"/><line x1="498.5" y1="216" x2="498.5" y2="337" stroke="#555" stroke-width="1.0"/><line x1="498.5" y1="336.5" x2="668.3" y2="336.5" stroke="#4a4a4a" stroke-width="1.0"/><line x1="496.3" y1="216.8" x2="498.5" y2="216.8" stroke="#555" stroke-width="0.9"/><text transform="translate(494.9 220.49) scale(0.97 1)" x="0" y="0" font-size="10.34" text-anchor="end" font-weight="normal" fill="#1a1a1a">-6</text><line x1="496.3" y1="243.6" x2="498.5" y2="243.6" stroke="#555" stroke-width="0.9"/><text transform="translate(494.9 247.28) scale(0.97 1)" x="0" y="0" font-size="10.34" text-anchor="end" font-weight="normal" fill="#1a1a1a">-12</text><line x1="496.3" y1="270" x2="498.5" y2="270" stroke="#555" stroke-width="0.9"/><text transform="translate(494.9 273.69) scale(0.97 1)" x="0" y="0" font-size="10.34" text-anchor="end" font-weight="normal" fill="#1a1a1a">-18</text><line x1="496.3" y1="296.6" x2="498.5" y2="296.6" stroke="#555" stroke-width="0.9"/><text transform="translate(494.9 300.29) scale(0.97 1)" x="0" y="0" font-size="10.34" text-anchor="end" font-weight="normal" fill="#1a1a1a">-24</text><line x1="496.3" y1="323.3" x2="498.5" y2="323.3" stroke="#555" stroke-width="0.9"/><text transform="translate(494.9 326.99) scale(0.97 1)" x="0" y="0" font-size="10.34" text-anchor="end" font-weight="normal" fill="#1a1a1a">-30</text><line x1="499" y1="336.5" x2="499" y2="338.7" stroke="#555" stroke-width="0.9"/><text transform="translate(499 348.04) scale(0.92 1)" x="0" y="0" font-size="10.23" text-anchor="middle" font-weight="normal" fill="#1a1a1a">1530</text><line x1="541.33" y1="336.5" x2="541.33" y2="338.7" stroke="#555" stroke-width="0.9"/><text transform="translate(541.33 348.04) scale(0.92 1)" x="0" y="0" font-size="10.23" text-anchor="middle" font-weight="normal" fill="#1a1a1a">1540</text><line x1="583.65" y1="336.5" x2="583.65" y2="338.7" stroke="#555" stroke-width="0.9"/><text transform="translate(583.65 348.04) scale(0.92 1)" x="0" y="0" font-size="10.23" text-anchor="middle" font-weight="normal" fill="#1a1a1a">1550</text><line x1="625.97" y1="336.5" x2="625.97" y2="338.7" stroke="#555" stroke-width="0.9"/><text transform="translate(625.97 348.04) scale(0.92 1)" x="0" y="0" font-size="10.23" text-anchor="middle" font-weight="normal" fill="#1a1a1a">1560</text><line x1="668.3" y1="336.5" x2="668.3" y2="338.7" stroke="#555" stroke-width="0.9"/><text transform="translate(668.3 348.04) scale(0.92 1)" x="0" y="0" font-size="10.23" text-anchor="middle" font-weight="normal" fill="#1a1a1a">1570</text><line x1="505.9" y1="231.9" x2="525.8" y2="231.9" stroke="#000" stroke-width="1.8"/><text x="529.2" y="235.64" font-size="9.9" fill="#1a1a1a">I</text><text x="531.62" y="238.5" font-size="7.04" fill="#1a1a1a">2</text><line x1="536.24" y1="232.89" x2="543.28" y2="232.89" stroke="#666" stroke-width="0.88"/><path d="M542.29,231.35 L544.93,232.89 L542.29,234.43 Z" fill="#333"/><text x="545.04" y="235.64" font-size="9.9" fill="#1a1a1a">O</text><text x="553.29" y="238.5" font-size="7.04" fill="#1a1a1a">0</text><line x1="505.9" y1="246.7" x2="525.8" y2="246.7" stroke="#ff0000" stroke-width="1.8"/><text x="529.2" y="250.44" font-size="9.9" fill="#1a1a1a">I</text><text x="531.62" y="253.3" font-size="7.04" fill="#1a1a1a">2</text><line x1="536.24" y1="247.69" x2="543.28" y2="247.69" stroke="#666" stroke-width="0.88"/><path d="M542.29,246.15 L544.93,247.69 L542.29,249.23 Z" fill="#333"/><text x="545.04" y="250.44" font-size="9.9" fill="#1a1a1a">O</text><text x="553.29" y="253.3" font-size="7.04" fill="#1a1a1a">1</text><line x1="505.9" y1="261.6" x2="525.8" y2="261.6" stroke="#0000ff" stroke-width="1.8"/><text x="529.2" y="265.34" font-size="9.9" fill="#1a1a1a">I</text><text x="531.62" y="268.2" font-size="7.04" fill="#1a1a1a">2</text><line x1="536.24" y1="262.59" x2="543.28" y2="262.59" stroke="#666" stroke-width="0.88"/><path d="M542.29,261.05 L544.93,262.59 L542.29,264.13 Z" fill="#333"/><text x="545.04" y="265.34" font-size="9.9" fill="#1a1a1a">O</text><text x="553.29" y="268.2" font-size="7.04" fill="#1a1a1a">2</text><text x="560.3" y="300.6" font-size="10.1" text-anchor="middle" font-weight="normal" fill="#1a1a1a">20.3 dB</text><polygon points="582,305.2 580.3,308.86 576.28,308.5 578.6,311.8 576.28,315.1 580.3,314.74 582,318.4 583.7,314.74 587.72,315.1 585.4,311.8 587.72,308.5 583.7,308.86" fill="#3b97d3"/><text x="584.6" y="356.9" font-size="10.3" text-anchor="middle" font-weight="normal" fill="#1a1a1a">Wavelength(nm)</text><text x="467" y="220.5" font-size="8.5" text-anchor="start" font-weight="bold" fill="#111">e</text><clipPath id="cf"><rect x="37" y="383.3" width="169.5" height="119"/></clipPath><rect x="37" y="383.3" width="169.5" height="119" fill="#fff"/><polyline points="37,478.81 37.6,480.98 38.5,483.75 39.21,485.98 40.01,488.13 40.9,488.63 41.48,487.53 42.09,485.88 42.73,484.12 43.37,482.31 44,480.56 44.61,478.44 45.2,476.14 45.8,474 46.43,472.5 47.1,471.59 47.71,471.79 48.35,472.83 49.01,474.65 49.69,476.64 50.35,478.5 51,480.03 51.63,481.43 52.26,482.82 52.89,483.9 53.5,484.73 54.11,485.23 54.7,485.71 55.41,485.53 56.11,484.99 56.79,484.1 57.43,483.68 58,483.99 58.69,486.35 59.23,489.57 60,490.88 60.58,490.22 61.26,488.85 61.99,487.54 62.74,486.27 63.46,485.25 64.1,484.65 64.91,484.92 65.62,485.96 66.3,487.53 67,488.76 67.72,489.88 68.45,490.64 69.18,491.42 69.9,491.75 70.65,491.76 71.42,491.22 72.15,491 72.8,491.29 73.7,494.6 74.6,497.66 75.22,497.98 75.91,497.81 76.66,497.64 77.5,497.25 78.13,496.79 78.82,495.78 79.55,494.82 80.28,493.95 80.97,493.5 81.6,493.5 82.41,495.04 83.12,497.76 83.8,500.59 84.5,502.42 85.22,502.38 85.94,501.08 86.67,499.42 87.4,498.61 87.99,499 88.57,500.11 89.16,501.55 89.77,502.83 90.4,503.39 91.07,503.19 91.76,502.63 92.48,502.01 93.19,501.17 93.9,500.21 94.62,499 95.36,497.58 96.09,496.39 96.78,495.41 97.4,495.06 98.21,497.11 98.89,500.75 99.7,502.9 100.31,502.66 100.98,501.67 101.7,500.19 102.44,498.58 103.2,497.22 103.87,496.41 104.59,495.58 105.33,494.97 106.04,494.29 106.71,493.72 107.3,493.46 108.2,495.08 108.89,497.93 109.6,499.42 110.18,498.64 110.76,496.65 111.36,494.67 112,493.28 112.68,493.07 113.38,493.57 114.12,494.56 114.9,495 115.56,494.52 116.25,493.44 116.96,492.63 117.68,492.22 118.4,492.21 119.12,492.4 119.84,492.81 120.57,493.5 121.29,494.04 122,494.35 122.71,494.18 123.43,494.17 124.13,494.15 124.79,494.12 125.4,493.7 126.24,492.49 126.97,491.12 127.7,491.1 128.47,493.38 129.26,496.78 130.1,499.21 130.79,499.54 131.52,499.11 132.26,498.36 133,498.04 133.7,498.45 134.37,499.17 135.09,499.77 135.9,499.72 136.53,499.47 137.23,499.2 137.96,499.04 138.69,498.51 139.38,497.64 140,496.72 140.74,495.61 141.34,494.8 141.95,493.97 142.7,493.17 143.22,492.32 143.78,491.59 144.37,491.02 145,490.85 145.64,490.54 146.31,490.05 147,489.85 147.56,489.83 148.16,490.04 148.79,489.62 149.42,488.92 150.06,488.05 150.69,487.42 151.3,487.3 151.87,487.22 152.4,487.44 153.24,488.07 153.98,489.55 154.66,491.23 155.32,492.77 156,493.92 156.68,495.51 157.34,497.74 158,499.76 158.68,500.84 159.4,500.6 160.04,498.95 160.71,496.29 161.4,493.14 162.1,490.22 162.8,487.73 163.5,486.38 164.2,486.33 164.93,487.62 165.65,489.57 166.36,491.75 167.05,493.5 167.7,494.44 168.41,494.16 169.07,492.79 169.7,490.63 170.34,488.19 171,486.2 171.69,484.85 172.39,483.82 173.1,482.93 173.84,482.16 174.6,481.57 175.18,481.3 175.8,481.1 176.43,480.95 177.07,480.8 177.68,480.9 178.27,481.24 178.8,481.95 179.54,485.17 180.12,490.15 180.74,494.5 181.6,496.02 182.08,495.07 182.61,493.12 183.18,490.12 183.78,486.5 184.41,482.6 185.06,478.8 185.73,475.73 186.41,473.41 187.1,472.39 187.68,472.57 188.29,473.67 188.92,475.08 189.57,476.7 190.23,478.26 190.89,480.21 191.55,482.29 192.2,484.52 192.82,486.31 193.43,487.48 194,487.99 194.73,487.35 195.39,485.6 196.02,482.88 196.63,480.05 197.24,477.43 197.88,475.33 198.56,473.67 199.3,472.88 199.91,473.03 200.59,473.79 201.32,475 202.08,476.41 202.85,478.05 203.61,479.96 204.33,482.11 205,484.25 205.6,485.92 206.11,487.14 206.5,487.93" fill="none" stroke="#ff0000" stroke-width="1.65" stroke-linejoin="round" stroke-linecap="round" clip-path="url(#cf)"/><polyline points="37,476 37.43,476.56 38.01,477.26 38.71,478.09 39.47,478.91 40.24,479.65 40.97,480.06 41.6,480.34 42.36,480.74 43.06,481.26 43.72,481.77 44.36,482.22 45,482.64 45.64,482.99 46.27,483.22 46.89,483.36 47.5,483.5 48.1,483.7 48.82,484.1 49.51,484.67 50.22,485.41 51,486.32 51.59,487 52.23,487.55 52.89,488.19 53.54,488.87 54.16,489.73 54.7,490.37 55.57,491.66 56.29,492.89 57,494.27 57.83,495.96 58.65,497.72 59.3,498.89 60,497.92 60.5,497.37 61.16,496.48 61.91,495.38 62.7,494.11 63.45,493.13 64.1,492.58 64.92,492.95 65.66,494.04 66.35,495.36 67,496.63 67.79,498.77 68.5,501.28 69.3,501.96 69.88,500.57 70.51,497.81 71.16,494.76 71.77,492.36 72.3,491.51 73.27,496.37 74,503.08 75,508.08 75.32,508.15 75.67,508.22 76.04,508.3 76.44,508.25 76.86,508.21 77.3,508.28 77.76,508.32 78.25,508.42 78.75,508.4 79.28,508.6 79.82,508.72 80.38,508.86 80.96,508.89 81.55,508.91 82.16,508.78 82.78,508.68 83.42,508.65 84.07,508.81 84.73,508.89 85.41,508.9 86.09,508.68 86.78,508.53 87.49,508.21 88.2,508.2 88.91,508.23 89.64,508.7 90.36,508.97 91.1,509.16 91.83,508.97 92.57,508.73 93.32,508.53 94.06,508.46 94.8,508.61 95.55,508.65 96.29,508.69 97.03,508.59 97.77,508.71 98.5,508.86 99.23,509.2 99.96,509.31 100.68,509.37 101.39,509.03 102.09,508.75 102.79,508.61 103.48,508.72 104.15,508.82 104.82,508.73 105.47,508.63 106.11,508.55 106.74,508.55 107.35,508.44 107.95,508.56 108.54,508.68 109.1,508.88 109.65,508.68 110.18,508.56 110.69,508.44 111.19,508.65 111.66,508.57 112.11,508.51 112.53,508.14 112.94,508.02 113.32,507.87 113.67,507.93 114,507.93 117.43,506.16 116.75,503.65 116.1,501.48 116.83,499.71 117.58,498.05 118.4,496.94 119.08,497.19 119.81,498.13 120.56,499.49 121.3,500.23 122.02,500.09 122.74,499.31 123.47,498.29 124.2,497.77 124.8,498 125.4,499.02 126,500.19 126.6,501.13 127.2,501.23 127.92,499.92 128.62,497.5 129.34,494.88 130.1,492.8 130.76,491.86 131.46,490.91 132.17,490.25 132.89,489.56 133.6,489.32 134.31,489.3 135.03,489.88 135.74,490.88 136.44,492.13 137.1,493.37 137.77,495.46 138.32,498.08 138.99,499.84 140,499.52 140.5,498.54 141.06,497.28 141.69,495.71 142.36,493.66 143.06,491.29 143.77,488.95 144.5,486.82 145.21,485.04 145.91,483.48 146.58,482.42 147.2,481.77 147.9,482.06 148.56,483.18 149.2,485.02 149.81,487.14 150.43,489.38 151.05,491.67 151.69,493.55 152.37,494.79 153.1,494.89 153.68,494.18 154.3,492.86 154.93,491.11 155.59,489.12 156.26,486.96 156.93,484.71 157.61,482.33 158.28,480.08 158.94,478.14 159.58,476.78 160.21,475.93 160.8,475.82 161.48,476.49 162.12,478.18 162.75,480.44 163.35,483.49 163.95,486.71 164.54,489.88 165.14,492.53 165.74,494.84 166.36,496.53 167,497.07 167.6,496.22 168.21,494.27 168.83,491.74 169.45,488.65 170.08,485.1 170.72,481.26 171.35,477.7 171.99,474.58 172.63,472.09 173.27,470.08 173.9,468.98 174.53,468.82 175.16,469.64 175.79,471.12 176.41,473.16 177.04,475.6 177.67,478.17 178.31,480.72 178.94,482.92 179.59,484.68 180.24,485.7 180.9,485.91 181.52,485.38 182.16,484.26 182.82,482.64 183.49,480.6 184.16,478.43 184.83,476.22 185.49,473.96 186.14,471.75 186.78,469.76 187.38,468 187.96,466.61 188.5,465.62 189.23,465.5 189.88,466.41 190.46,468.12 191.02,470.22 191.56,472.4 192.13,474.38 192.73,475.67 193.4,476.05 193.98,475.46 194.6,474.33 195.23,472.85 195.88,471.07 196.54,469.17 197.22,467.13 197.89,465.35 198.57,463.62 199.24,462.27 199.9,461.41 200.59,461.41 201.32,462.08 202.08,463.12 202.85,464.3 203.61,465.57 204.33,466.96 205,468.51 205.6,469.92 206.11,470.97 206.5,471.51" fill="none" stroke="#0000ff" stroke-width="1.65" stroke-linejoin="round" stroke-linecap="round" clip-path="url(#cf)"/><polyline points="37,388.59 37.31,388.66 37.64,388.65 38,388.36 38.37,388.3 38.77,388.26 39.18,388.42 39.61,388.86 40.06,389.32 40.53,389.73 41.01,389.57 41.51,389.2 42.03,388.76 42.56,388.47 43.11,388.4 43.67,388.35 44.24,388.21 44.83,387.91 45.42,387.89 46.03,388.22 46.65,389.1 47.29,389.57 47.93,389.65 48.58,388.96 49.23,388.53 49.9,388.3 50.58,388.5 51.26,388.52 51.94,388.34 52.64,388.14 53.33,388.02 54.04,388.37 54.74,388.39 55.45,388.52 56.16,388.03 56.88,387.69 57.59,387.3 58.31,387.5 59.02,387.86 59.74,388.16 60.46,387.93 61.17,387.64 61.88,387.3 62.59,387.33 63.3,387.36 64,387.52 64.53,387.61 65.06,387.57 65.6,387.52 66.15,387.51 66.7,387.65 67.25,387.78 67.81,387.98 68.38,388.3 68.95,388.79 69.52,389 70.1,388.79 70.68,388.34 71.27,388.05 71.86,388.25 72.45,388.5 73.05,388.81 73.65,388.67 74.25,388.54 74.85,388.16 75.46,387.89 76.07,387.64 76.69,387.56 77.3,387.69 77.92,387.9 78.54,388.42 79.16,388.91 79.78,389.18 80.41,389.04 81.03,388.94 81.66,389.09 82.28,389.15 82.91,388.93 83.54,388.67 84.16,388.57 84.79,388.69 85.42,388.79 86.05,389.15 86.67,389.37 87.3,389.39 87.93,389.02 88.55,388.68 89.17,388.56 89.8,388.51 90.42,388.71 91.04,388.73 91.65,388.85 92.27,388.63 92.88,388.68 93.49,388.49 94.1,388.61 94.7,388.57 95.31,389.05 95.91,389.37 96.5,389.76 97.09,389.88 97.68,389.83 98.27,389.86 98.85,389.88 99.43,390.15 100,390.21 100.64,390.04 101.27,389.66 101.91,389.27 102.56,389.19 103.2,389.14 103.85,389.1 104.49,388.89 105.14,388.68 105.79,388.68 106.44,388.56 107.09,388.67 107.75,388.91 108.4,389.39 109.05,389.54 109.7,389.3 110.35,389 111,389.05 111.65,389.24 112.3,389.65 112.94,389.53 113.59,389.35 114.23,388.92 114.87,389.06 115.51,389.27 116.14,389.64 116.78,389.9 117.41,390.46 118.03,390.33 118.66,390.1 119.28,389.56 119.89,389.82 120.5,389.9 121.11,389.83 121.72,389.38 122.31,389.17 122.91,389.47 123.5,390.1 124.08,390.64 124.66,390.77 125.23,390.68 125.79,390.79 126.35,390.97 126.91,390.93 127.45,390.49 127.99,390.02 128.52,389.83 129.05,389.65 129.57,389.64 130.08,389.62 130.58,389.91 131.07,389.89 131.56,390.03 132.03,390.03 132.5,390.25 133.34,389.97 134.13,389.6 134.87,389.35 135.58,389.46 136.25,389.91 136.88,390.12 137.49,390.43 138.07,390.38 138.62,390.34 139.16,390.23 139.68,390.2 140.18,390.07 140.68,389.68 141.16,389.46 141.65,389.42 142.13,389.58 142.62,389.39 143.12,389.43 143.62,389.36 144.14,389.63 144.68,389.4 145.24,389.38 145.82,388.92 146.43,388.84 147.07,388.58 147.74,388.57 148.45,388.44 149.2,388.35 150,388.56 150.48,388.44 150.97,388.66 151.47,388.54 151.99,389.23 152.51,389.53 153.04,389.95 153.58,389.66 154.13,389.32 154.69,389.05 155.26,389 155.83,388.99 156.41,388.79 157,388.67 157.59,388.84 158.19,389.17 158.8,389.42 159.41,389.2 160.02,388.92 160.64,388.76 161.27,389.21 161.9,389.62 162.53,389.61 163.16,389.15 163.8,388.99 164.44,389.21 165.08,389.68 165.72,389.68 166.36,389.73 167.01,389.46 167.65,389.18 168.3,388.67 168.94,388.51 169.58,388.48 170.22,388.58 170.86,388.54 171.5,388.85 172.14,389.13 172.77,389.16 173.4,388.84 174.02,388.45 174.65,388.6 175.26,388.95 175.88,389.58 176.48,389.62 177.09,389.37 177.68,388.91 178.27,388.9 178.85,389.32 179.43,389.68 180,389.79 180.65,389.62 181.3,389.5 181.97,389.48 182.64,389.53 183.32,389.88 184,390.22 184.69,390.22 185.39,389.71 186.09,388.9 186.79,388.63 187.49,388.85 188.2,389.73 188.9,390.18 189.61,390.07 190.31,389.48 191.01,389.23 191.71,389.52 192.4,390.1 193.09,390.71 193.78,391.05 194.45,391.18 195.12,390.63 195.79,389.94 196.44,389.14 197.09,389.01 197.72,389.18 198.35,389.47 198.96,389.78 199.56,390.04 200.15,390.31 200.72,390.28 201.28,390.24 201.82,390.29 202.35,390.41 202.85,390.48 203.34,390.32 203.81,390.24 204.26,390.01 204.69,389.79 205.1,389.51 205.49,389.54 205.85,389.81 206.19,390.25 206.5,390.47" fill="none" stroke="#000" stroke-width="1.65" stroke-linejoin="round" stroke-linecap="round" clip-path="url(#cf)"/><rect x="37" y="383.3" width="169.5" height="119" fill="none" stroke="#7a7a7a" stroke-width="0.9"/><line x1="37" y1="383.3" x2="37" y2="502.8" stroke="#999" stroke-width="1.7"/><line x1="37" y1="502.3" x2="206.5" y2="502.3" stroke="#4a4a4a" stroke-width="1.0"/><line x1="34.8" y1="387.6" x2="37" y2="387.6" stroke="#555" stroke-width="0.9"/><text transform="translate(33.4 390.95) scale(0.97 1)" x="0" y="0" font-size="9.4" text-anchor="end" font-weight="normal" fill="#1a1a1a">-6</text><line x1="34.8" y1="412.1" x2="37" y2="412.1" stroke="#555" stroke-width="0.9"/><text transform="translate(33.4 415.45) scale(0.97 1)" x="0" y="0" font-size="9.4" text-anchor="end" font-weight="normal" fill="#1a1a1a">-12</text><line x1="34.8" y1="436.6" x2="37" y2="436.6" stroke="#555" stroke-width="0.9"/><text transform="translate(33.4 439.95) scale(0.97 1)" x="0" y="0" font-size="9.4" text-anchor="end" font-weight="normal" fill="#1a1a1a">-18</text><line x1="34.8" y1="461.2" x2="37" y2="461.2" stroke="#555" stroke-width="0.9"/><text transform="translate(33.4 464.55) scale(0.97 1)" x="0" y="0" font-size="9.4" text-anchor="end" font-weight="normal" fill="#1a1a1a">-24</text><line x1="34.8" y1="485.8" x2="37" y2="485.8" stroke="#555" stroke-width="0.9"/><text transform="translate(33.4 489.15) scale(0.97 1)" x="0" y="0" font-size="9.4" text-anchor="end" font-weight="normal" fill="#1a1a1a">-30</text><line x1="37" y1="502.3" x2="37" y2="504.5" stroke="#555" stroke-width="0.9"/><text transform="translate(37 513.2) scale(0.92 1)" x="0" y="0" font-size="9.3" text-anchor="middle" font-weight="normal" fill="#1a1a1a">1530</text><line x1="79.38" y1="502.3" x2="79.38" y2="504.5" stroke="#555" stroke-width="0.9"/><text transform="translate(79.38 513.2) scale(0.92 1)" x="0" y="0" font-size="9.3" text-anchor="middle" font-weight="normal" fill="#1a1a1a">1540</text><line x1="121.75" y1="502.3" x2="121.75" y2="504.5" stroke="#555" stroke-width="0.9"/><text transform="translate(121.75 513.2) scale(0.92 1)" x="0" y="0" font-size="9.3" text-anchor="middle" font-weight="normal" fill="#1a1a1a">1550</text><line x1="164.12" y1="502.3" x2="164.12" y2="504.5" stroke="#555" stroke-width="0.9"/><text transform="translate(164.12 513.2) scale(0.92 1)" x="0" y="0" font-size="9.3" text-anchor="middle" font-weight="normal" fill="#1a1a1a">1560</text><line x1="206.5" y1="502.3" x2="206.5" y2="504.5" stroke="#555" stroke-width="0.9"/><text transform="translate(206.5 513.2) scale(0.92 1)" x="0" y="0" font-size="9.3" text-anchor="middle" font-weight="normal" fill="#1a1a1a">1570</text><line x1="43.7" y1="397.9" x2="62.5" y2="397.9" stroke="#000" stroke-width="1.6"/><text x="65.2" y="401.3" font-size="9" fill="#1a1a1a">I</text><text x="67.4" y="403.9" font-size="6.4" fill="#1a1a1a">0</text><line x1="71.6" y1="398.8" x2="78" y2="398.8" stroke="#666" stroke-width="0.8"/><path d="M77.1,397.4 L79.5,398.8 L77.1,400.2 Z" fill="#333"/><text x="79.6" y="401.3" font-size="9" fill="#1a1a1a">O</text><text x="87.1" y="403.9" font-size="6.4" fill="#1a1a1a">0</text><line x1="43.7" y1="411.3" x2="62.5" y2="411.3" stroke="#ff0000" stroke-width="1.6"/><text x="65.2" y="414.7" font-size="9" fill="#1a1a1a">I</text><text x="67.4" y="417.3" font-size="6.4" fill="#1a1a1a">0</text><line x1="71.6" y1="412.2" x2="78" y2="412.2" stroke="#666" stroke-width="0.8"/><path d="M77.1,410.8 L79.5,412.2 L77.1,413.6 Z" fill="#333"/><text x="79.6" y="414.7" font-size="9" fill="#1a1a1a">O</text><text x="87.1" y="417.3" font-size="6.4" fill="#1a1a1a">1</text><line x1="43.7" y1="425.3" x2="62.5" y2="425.3" stroke="#0000ff" stroke-width="1.6"/><text x="65.2" y="428.7" font-size="9" fill="#1a1a1a">I</text><text x="67.4" y="431.3" font-size="6.4" fill="#1a1a1a">0</text><line x1="71.6" y1="426.2" x2="78" y2="426.2" stroke="#666" stroke-width="0.8"/><path d="M77.1,424.8 L79.5,426.2 L77.1,427.6 Z" fill="#333"/><text x="79.6" y="428.7" font-size="9" fill="#1a1a1a">O</text><text x="87.1" y="431.3" font-size="6.4" fill="#1a1a1a">2</text><text x="91.2" y="481.7" font-size="9.2" text-anchor="middle" font-weight="normal" fill="#1a1a1a">25.8 dB</text><polygon points="120.9,487.8 119.2,491.46 115.18,491.1 117.5,494.4 115.18,497.7 119.2,497.34 120.9,501 122.6,497.34 126.62,497.7 124.3,494.4 126.62,491.1 122.6,491.46" fill="#3b97d3"/><text x="17" y="444" font-size="9.1" text-anchor="middle" font-weight="normal" fill="#1a1a1a" transform="rotate(-90 17 444)">Transmission(dB)</text><text x="122" y="522.8" font-size="9.3" text-anchor="middle" font-weight="normal" fill="#1a1a1a">Wavelength(nm)</text><text x="11.5" y="388" font-size="9.5" text-anchor="start" font-weight="bold" fill="#111">f</text><clipPath id="cg"><rect x="269.7" y="382.4" width="169.5" height="120"/></clipPath><rect x="269.7" y="382.4" width="169.5" height="120" fill="#fff"/><polyline points="269.7,392.12 270.13,391.5 270.71,390.98 271.41,390.99 272.16,390.88 272.91,390.53 273.6,390.15 274.23,389.67 274.85,389.14 275.47,388.77 276.09,388.56 276.73,388.54 277.4,388.75 277.99,388.82 278.6,388.99 279.21,389.61 279.84,390.29 280.48,390.96 281.13,391.39 281.8,391.13 282.4,390.7 283.02,390.47 283.66,390.2 284.3,389.95 284.94,389.41 285.58,389.09 286.2,388.87 286.8,388.37 287.47,388.28 288.14,388.48 288.79,388.74 289.43,389.22 290.05,389.71 290.64,389.97 291.2,390.15 291.91,390.03 292.54,389.78 293.14,389.8 293.75,389.34 294.4,388.61 294.96,388.36 295.5,388.12 296.06,387.42 296.66,386.52 297.33,386.1 298.1,386.21 298.63,386.46 299.21,386.79 299.84,387.21 300.5,387.56 301.17,388.19 301.85,389.15 302.52,389.84 303.18,390.27 303.81,390.68 304.4,390.93 305.09,391.06 305.76,390.92 306.4,390.49 307.02,389.9 307.63,389.18 308.22,388.38 308.81,387.93 309.4,388.09 310.05,388.36 310.68,388.34 311.3,388.29 311.9,388.62 312.52,388.88 313.15,389.08 313.8,389.58 314.38,389.51 314.96,388.9 315.54,388.73 316.14,388.44 316.75,387.79 317.4,387.7 318.08,387.92 318.8,387.76 319.36,387.38 319.96,387.64 320.59,388.56 321.23,389.26 321.89,389.56 322.56,390.03 323.23,390.87 323.89,391.66 324.55,392.09 325.19,392.42 325.8,392.66 326.46,392.48 327.11,391.88 327.75,391.18 328.39,390.44 329.02,389.31 329.64,388.05 330.25,387.34 330.84,386.93 331.43,386.37 332,386.01 332.69,386.52 333.34,387.33 333.97,387.71 334.59,388.3 335.2,389.15 335.82,389.94 336.45,390.74 337.1,391.09 337.7,390.79 338.31,390.47 338.93,390.47 339.55,390.14 340.18,389.19 340.81,388.4 341.44,388.18 342.07,388.06 342.7,388.02 343.34,388.13 344,388.49 344.67,389.13 345.34,389.69 346,390.05 346.64,390.2 347.27,390.61 347.85,391.08 348.4,390.88 349.15,390.07 349.85,389.11 350.49,388.15 351.07,387.27 351.61,386.46 352.1,385.83 352.73,385.26 353.16,385.14 354,385.6 354.46,386.08 354.99,386.56 355.59,387 356.23,387.68 356.9,388.4 357.59,388.91 358.28,389.43 358.95,390 359.6,390.3 360.23,390.21 360.86,389.74 361.5,389.16 362.13,388.46 362.77,387.63 363.4,386.86 364.04,386.13 364.67,385.77 365.3,385.81 365.93,385.9 366.55,386.03 367.17,386.48 367.79,387.46 368.41,388.1 369.03,388.31 369.65,388.98 370.27,389.59 370.9,389.82 371.53,389.55 372.16,389 372.8,388.56 373.43,387.75 374.07,386.99 374.7,386.49 375.34,385.93 375.97,385.48 376.6,385.16 377.22,385.23 377.84,385.68 378.45,386.39 379.06,387.35 379.67,388.2 380.29,388.7 380.91,388.72 381.55,388.58 382.2,388.71 382.81,388.75 383.44,388.43 384.08,387.81 384.73,386.8 385.39,385.93 386.04,385.36 386.68,384.74 387.31,384.28 387.92,383.95 388.5,383.58 389.19,383.55 389.84,384.54 390.47,386.02 391.07,387.08 391.67,388.09 392.27,389.12 392.88,389.78 393.5,389.95 394.13,389.56 394.74,388.62 395.36,387.64 395.97,386.85 396.6,385.51 397.25,384.16 397.91,383.6 398.6,383.19 399.18,382.88 399.77,383.33 400.38,384.2 401,384.79 401.62,385.39 402.26,386.06 402.9,386.51 403.54,387.09 404.17,387.66 404.8,387.66 405.43,387.5 406.07,387.32 406.72,386.71 407.38,386.19 408.02,385.93 408.67,385.48 409.3,385.01 409.92,384.37 410.52,383.93 411.1,384.05 411.78,384.13 412.41,384.46 413.01,385.11 413.6,385.89 414.19,386.94 414.79,387.75 415.42,388.16 416.1,388.4 416.68,388.45 417.29,388.2 417.91,387.77 418.56,387.1 419.21,386.06 419.86,385.11 420.51,384.3 421.16,383.52 421.79,383.18 422.4,383.15 423.06,383 423.72,383.22 424.37,384.17 425.01,385.38 425.65,386.31 426.27,386.76 426.89,387.29 427.5,387.94 428.1,388.25 428.75,388.07 429.37,387.56 429.98,386.86 430.58,386.13 431.18,385.49 431.79,384.82 432.43,384.17 433.1,383.66 433.69,383.56 434.35,383.97 435.04,384.58 435.75,385.24 436.46,385.73 437.15,386.03 437.78,386.33 438.35,386.69 438.83,387.2 439.2,387.54" fill="none" stroke="#ff0000" stroke-width="1.65" stroke-linejoin="round" stroke-linecap="round" clip-path="url(#cg)"/><polyline points="270.3,474.3 270.56,472.89 270.88,470.72 271.27,468.16 271.72,465.6 272.24,463.43 272.84,462.04 273.5,461.8 273.82,462.19 274.18,462.9 274.56,463.9 274.96,465.12 275.38,466.54 275.81,468.09 276.26,469.74 276.71,471.43 277.17,473.12 277.62,474.76 278.07,476.3 278.51,477.7 278.94,478.9 279.35,479.87 279.74,480.55 280.1,480.9 280.59,480.74 281.03,479.89 281.44,478.5 281.84,476.73 282.21,474.74 282.59,472.7 282.96,470.75 283.36,469.06 283.77,467.78 284.21,467.07 284.7,467.1 285.06,467.63 285.44,468.55 285.83,469.82 286.24,471.37 286.66,473.14 287.09,475.08 287.52,477.13 287.96,479.23 288.4,481.31 288.84,483.33 289.27,485.22 289.7,486.92 290.12,488.38 290.53,489.53 290.92,490.33 291.3,490.7 291.78,490.44 292.25,489.38 292.7,487.7 293.13,485.55 293.56,483.1 293.98,480.53 294.4,478 294.81,475.66 295.23,473.7 295.64,472.28 296.07,471.55 296.5,471.7 296.91,472.71 297.34,474.46 297.78,476.84 298.22,479.71 298.67,482.94 299.12,486.39 299.56,489.94 299.98,493.46 300.39,496.82 300.79,499.88 301.15,502.52 301.49,504.6 301.8,506 302.4,507.26 302.8,506.32 303.11,503.94 303.47,500.9 304,498 304.35,496.42 304.75,494.37 305.17,492.01 305.63,489.49 306.09,486.99 306.57,484.65 307.05,482.64 307.52,481.13 307.97,480.26 308.4,480.2 308.86,481.29 309.3,483.5 309.74,486.53 310.18,490.09 310.61,493.91 311.03,497.7 311.46,501.16 311.88,504.03 312.3,506 312.72,507.2 313.13,507.98 313.53,508.38 313.93,508.46 314.33,508.28 314.74,507.89 315.15,507.34 315.57,506.69 316,506 316.41,505.14 316.83,503.88 317.27,502.35 317.71,500.66 318.16,498.91 318.6,497.23 319.03,495.72 319.44,494.51 319.83,493.7 320.2,493.4 320.64,493.95 320.98,495.41 321.28,497.49 321.58,499.88 321.93,502.29 322.39,504.43 323,506 323.31,506.47 323.67,506.89 324.07,507.27 324.51,507.62 324.96,507.93 325.44,508.21 325.93,508.46 326.43,508.68 326.92,508.89 327.41,509.07 327.88,509.23 328.33,509.38 328.75,509.52 329.13,509.64 329.47,509.77 329.76,509.88 330,510" fill="none" stroke="#0000ff" stroke-width="1.65" stroke-linejoin="round" stroke-linecap="round" clip-path="url(#cg)"/><polyline points="267.5,488 267.82,485.89 268.14,483.79 268.45,481.73 268.77,479.73 269.09,477.79 269.41,475.94 269.72,474.2 270.04,472.57 270.36,471.08 270.68,469.73 270.99,468.53 271.31,467.5 271.63,466.65 271.95,465.97 272.26,465.49 272.58,465.2 272.9,465.1 273.2,465.18 273.51,465.42 273.81,465.82 274.12,466.38 274.42,467.09 274.73,467.95 275.03,468.96 275.34,470.1 275.64,471.38 275.95,472.79 276.25,474.31 276.56,475.94 276.86,477.68 277.17,479.5 277.47,481.4 277.78,483.38 278.08,485.41 278.39,487.49 278.69,489.61 279,491.75 279.3,493.9 279.62,490.79 279.94,487.71 280.25,484.68 280.57,481.73 280.89,478.88 281.21,476.16 281.52,473.59 281.84,471.2 282.16,469 282.48,467.01 282.79,465.25 283.11,463.73 283.43,462.48 283.75,461.49 284.06,460.77 284.38,460.34 284.7,460.2 285,460.3 285.31,460.59 285.61,461.08 285.92,461.75 286.22,462.61 286.53,463.66 286.83,464.88 287.14,466.26 287.44,467.81 287.75,469.52 288.05,471.36 288.36,473.34 288.66,475.44 288.97,477.65 289.27,479.96 289.58,482.35 289.88,484.81 290.19,487.33 290.49,489.9 290.8,492.49 291.1,495.1 291.42,491.88 291.74,488.69 292.05,485.55 292.37,482.49 292.69,479.54 293.01,476.73 293.32,474.07 293.64,471.59 293.96,469.31 294.28,467.25 294.59,465.43 294.91,463.86 295.23,462.56 295.55,461.53 295.86,460.79 296.18,460.35 296.5,460.2 296.82,460.37 297.14,460.88 297.45,461.72 297.77,462.89 298.09,464.37 298.41,466.16 298.72,468.24 299.04,470.59 299.36,473.19 299.68,476.02 299.99,479.05 300.31,482.26 300.63,485.62 300.95,489.11 301.26,492.69 301.58,496.33 301.9,500 302.21,497.24 302.52,494.5 302.83,491.79 303.14,489.12 303.45,486.52 303.76,483.99 304.07,481.55 304.38,479.21 304.69,476.99 305,474.9 305.3,472.95 305.61,471.15 305.92,469.51 306.23,468.04 306.54,466.75 306.85,465.65 307.16,464.74 307.47,464.03 307.78,463.51 308.09,463.2 308.4,463.1 308.7,463.24 309,463.65 309.3,464.34 309.6,465.3 309.9,466.52 310.2,467.99 310.5,469.72 310.8,471.68 311.1,473.86 311.4,476.25 311.7,478.84 312,481.61 312.3,484.54 312.6,487.62 312.9,490.82 313.2,494.13 313.5,497.52 313.8,500.98 314.1,504.48 314.4,508 314.7,504.79 315.01,501.61 315.31,498.45 315.62,495.36 315.92,492.33 316.23,489.39 316.53,486.55 316.84,483.83 317.14,481.25 317.45,478.82 317.75,476.55 318.06,474.46 318.36,472.55 318.67,470.85 318.97,469.35 319.28,468.07 319.58,467.01 319.89,466.18 320.19,465.58 320.5,465.22 320.8,465.1 321.12,465.28 321.44,465.83 321.75,466.74 322.07,468 322.39,469.6 322.71,471.53 323.02,473.77 323.34,476.3 323.66,479.1 323.98,482.15 324.29,485.42 324.61,488.88 324.93,492.5 325.25,496.26 325.56,500.12 325.88,504.04 326.2,508 326.51,504.41 326.81,500.84 327.12,497.32 327.42,493.88 327.73,490.53 328.03,487.3 328.34,484.21 328.64,481.28 328.95,478.54 329.25,476 329.56,473.67 329.86,471.58 330.17,469.74 330.47,468.16 330.78,466.86 331.08,465.83 331.39,465.09 331.69,464.65 332,464.5 332.3,464.59 332.6,464.86 332.9,465.32 333.2,465.95 333.5,466.75 333.8,467.73 334.1,468.87 334.4,470.16 334.7,471.61 335,473.2 335.3,474.93 335.6,476.77 335.9,478.74 336.2,480.8 336.5,482.96 336.8,485.19 337.1,487.49 337.4,489.85 337.7,492.24 338,494.66 338.3,497.1 338.61,494.49 338.92,491.89 339.23,489.33 339.54,486.81 339.85,484.36 340.16,481.98 340.47,479.7 340.78,477.53 341.09,475.47 341.4,473.55 341.71,471.78 342.02,470.16 342.33,468.71 342.64,467.43 342.95,466.33 343.26,465.43 343.57,464.72 343.88,464.21 344.19,463.9 344.5,463.8 344.8,463.99 345.1,464.55 345.4,465.49 345.7,466.78 346,468.43 346.3,470.42 346.6,472.73 346.9,475.34 347.2,478.22 347.5,481.36 347.8,484.73 348.1,488.3 348.4,492.03 348.7,495.9 349,499.88 349.3,503.92 349.6,508 349.9,504.61 350.21,501.25 350.51,497.92 350.82,494.65 351.12,491.45 351.43,488.35 351.73,485.35 352.04,482.48 352.34,479.76 352.65,477.19 352.95,474.79 353.26,472.58 353.56,470.57 353.87,468.77 354.17,467.19 354.48,465.83 354.78,464.71 355.09,463.84 355.39,463.21 355.7,462.83 356,462.7 356.31,462.92 356.61,463.57 356.92,464.65 357.23,466.15 357.53,468.05 357.84,470.33 358.14,472.98 358.45,475.97 358.76,479.26 359.06,482.83 359.37,486.65 359.67,490.66 359.98,494.85 360.29,499.16 360.59,503.56 360.9,508 361.2,504.67 361.51,501.35 361.81,498.07 362.12,494.84 362.42,491.68 362.73,488.6 363.03,485.62 363.34,482.75 363.64,480.01 363.95,477.42 364.25,474.98 364.55,472.71 364.86,470.61 365.16,468.71 365.47,467.01 365.77,465.52 366.08,464.24 366.38,463.19 366.69,462.37 366.99,461.78 367.3,461.42 367.6,461.3 367.91,461.46 368.21,461.94 368.52,462.73 368.82,463.83 369.13,465.23 369.43,466.93 369.74,468.9 370.04,471.15 370.35,473.64 370.65,476.37 370.96,479.32 371.26,482.46 371.57,485.77 371.87,489.24 372.18,492.84 372.48,496.54 372.79,500.31 373.09,504.14 373.4,508 373.7,504.3 374,500.63 374.3,496.99 374.6,493.41 374.9,489.9 375.2,486.48 375.5,483.17 375.8,479.99 376.1,476.96 376.4,474.08 376.7,471.37 377,468.85 377.3,466.53 377.6,464.42 377.9,462.54 378.2,460.88 378.5,459.47 378.8,458.3 379.1,457.38 379.4,456.73 379.7,456.33 380,456.2 380.31,456.48 380.63,457.33 380.94,458.74 381.25,460.68 381.57,463.14 381.88,466.09 382.19,469.51 382.51,473.34 382.82,477.55 383.13,482.1 383.45,486.93 383.76,491.99 384.07,497.23 384.39,502.59 384.7,508 385,504.36 385.31,500.74 385.61,497.16 385.92,493.62 386.22,490.15 386.53,486.77 386.83,483.48 387.13,480.31 387.44,477.26 387.74,474.36 388.05,471.62 388.35,469.05 388.66,466.65 388.96,464.46 389.27,462.46 389.57,460.68 389.87,459.11 390.18,457.78 390.48,456.68 390.79,455.81 391.09,455.2 391.4,454.82 391.7,454.7 392.01,454.9 392.32,455.51 392.63,456.52 392.94,457.91 393.26,459.69 393.57,461.84 393.88,464.34 394.19,467.17 394.5,470.31 394.81,473.74 395.12,477.43 395.43,481.35 395.74,485.47 396.06,489.77 396.37,494.2 396.68,498.74 396.99,503.35 397.3,508 397.61,504.11 397.91,500.24 398.22,496.42 398.52,492.67 398.82,489.02 399.13,485.48 399.44,482.08 399.74,478.85 400.05,475.79 400.35,472.93 400.65,470.28 400.96,467.87 401.26,465.71 401.57,463.81 401.88,462.18 402.18,460.83 402.48,459.77 402.79,459.01 403.09,458.55 403.4,458.4 403.71,458.61 404.01,459.24 404.32,460.29 404.62,461.75 404.93,463.6 405.24,465.83 405.54,468.42 405.85,471.35 406.15,474.58 406.46,478.11 406.76,481.89 407.07,485.89 407.38,490.08 407.68,494.43 407.99,498.89 408.29,503.42 408.6,508 408.9,504.7 409.2,501.41 409.5,498.14 409.8,494.92 410.1,491.75 410.4,488.64 410.7,485.6 411,482.66 411.3,479.82 411.6,477.08 411.9,474.47 412.2,471.99 412.5,469.66 412.8,467.47 413.1,465.45 413.4,463.59 413.7,461.91 414,460.41 414.3,459.09 414.6,457.97 414.9,457.05 415.2,456.33 415.5,455.81 415.8,455.5 416.1,455.4 416.42,455.65 416.74,456.41 417.06,457.66 417.38,459.4 417.69,461.61 418.01,464.26 418.33,467.34 418.65,470.81 418.97,474.63 419.29,478.78 419.61,483.2 419.93,487.87 420.24,492.73 420.56,497.74 420.88,502.84 421.2,508 421.5,503.85 421.8,499.73 422.1,495.65 422.4,491.64 422.7,487.72 423,483.92 423.3,480.25 423.6,476.74 423.9,473.4 424.2,470.25 424.5,467.32 424.8,464.61 425.1,462.14 425.4,459.94 425.7,458 426,456.34 426.3,454.97 426.6,453.89 426.9,453.12 427.2,452.66 427.5,452.5 427.81,452.77 428.12,453.57 428.44,454.89 428.75,456.72 429.06,459.05 429.38,461.85 429.69,465.1 430,468.76 430.31,472.79 430.62,477.17 430.94,481.84 431.25,486.76 431.56,491.89 431.88,497.17 432.19,502.56 432.5,508 432.81,503.9 433.12,499.84 433.43,495.82 433.74,491.89 434.05,488.08 434.36,484.39 434.67,480.87 434.98,477.54 435.29,474.41 435.61,471.51 435.92,468.86 436.23,466.48 436.54,464.38 436.85,462.58 437.16,461.09 437.47,459.92 437.78,459.08 438.09,458.57 438.4,458.4 438.71,458.59 439.02,459.15 439.33,460.09 439.64,461.39 439.96,463.05 440.27,465.05 440.58,467.37 440.89,470 441.2,472.93 441.51,476.12 441.82,479.55 442.13,483.2 442.44,487.04 442.76,491.04 443.07,495.16 443.38,499.39 443.69,503.68 444,508" fill="none" stroke="#000" stroke-width="1.65" stroke-linejoin="round" stroke-linecap="round" clip-path="url(#cg)"/><rect x="269.7" y="382.4" width="169.5" height="120" fill="none" stroke="#7a7a7a" stroke-width="0.9"/><line x1="269.7" y1="382.4" x2="269.7" y2="502.9" stroke="#666" stroke-width="1.1"/><line x1="269.7" y1="502.4" x2="439.2" y2="502.4" stroke="#4a4a4a" stroke-width="1.0"/><line x1="267.5" y1="389.2" x2="269.7" y2="389.2" stroke="#555" stroke-width="0.9"/><text transform="translate(266.1 392.55) scale(0.97 1)" x="0" y="0" font-size="9.4" text-anchor="end" font-weight="normal" fill="#1a1a1a">-12</text><line x1="267.5" y1="415.7" x2="269.7" y2="415.7" stroke="#555" stroke-width="0.9"/><text transform="translate(266.1 419.05) scale(0.97 1)" x="0" y="0" font-size="9.4" text-anchor="end" font-weight="normal" fill="#1a1a1a">-16</text><line x1="267.5" y1="442.2" x2="269.7" y2="442.2" stroke="#555" stroke-width="0.9"/><text transform="translate(266.1 445.55) scale(0.97 1)" x="0" y="0" font-size="9.4" text-anchor="end" font-weight="normal" fill="#1a1a1a">-20</text><line x1="267.5" y1="468.4" x2="269.7" y2="468.4" stroke="#555" stroke-width="0.9"/><text transform="translate(266.1 471.75) scale(0.97 1)" x="0" y="0" font-size="9.4" text-anchor="end" font-weight="normal" fill="#1a1a1a">-24</text><line x1="267.5" y1="495.2" x2="269.7" y2="495.2" stroke="#555" stroke-width="0.9"/><text transform="translate(266.1 498.55) scale(0.97 1)" x="0" y="0" font-size="9.4" text-anchor="end" font-weight="normal" fill="#1a1a1a">-28</text><line x1="270" y1="502.4" x2="270" y2="504.6" stroke="#555" stroke-width="0.9"/><text transform="translate(270 513.3) scale(0.92 1)" x="0" y="0" font-size="9.3" text-anchor="middle" font-weight="normal" fill="#1a1a1a">1530</text><line x1="312.3" y1="502.4" x2="312.3" y2="504.6" stroke="#555" stroke-width="0.9"/><text transform="translate(312.3 513.3) scale(0.92 1)" x="0" y="0" font-size="9.3" text-anchor="middle" font-weight="normal" fill="#1a1a1a">1540</text><line x1="354.6" y1="502.4" x2="354.6" y2="504.6" stroke="#555" stroke-width="0.9"/><text transform="translate(354.6 513.3) scale(0.92 1)" x="0" y="0" font-size="9.3" text-anchor="middle" font-weight="normal" fill="#1a1a1a">1550</text><line x1="396.9" y1="502.4" x2="396.9" y2="504.6" stroke="#555" stroke-width="0.9"/><text transform="translate(396.9 513.3) scale(0.92 1)" x="0" y="0" font-size="9.3" text-anchor="middle" font-weight="normal" fill="#1a1a1a">1560</text><line x1="439.2" y1="502.4" x2="439.2" y2="504.6" stroke="#555" stroke-width="0.9"/><text transform="translate(439.2 513.3) scale(0.92 1)" x="0" y="0" font-size="9.3" text-anchor="middle" font-weight="normal" fill="#1a1a1a">1570</text><line x1="276.8" y1="397.2" x2="295.2" y2="397.2" stroke="#000" stroke-width="1.6"/><text x="297.9" y="400.8" font-size="9" fill="#1a1a1a">I</text><text x="300.23" y="403.56" font-size="6.78" fill="#1a1a1a">1</text><line x1="304.68" y1="398.15" x2="311.47" y2="398.15" stroke="#666" stroke-width="0.85"/><path d="M310.51,396.67 L313.06,398.15 L310.51,399.64 Z" fill="#333"/><text x="313.16" y="400.8" font-size="9" fill="#1a1a1a">O</text><text x="321.11" y="403.56" font-size="6.78" fill="#1a1a1a">0</text><line x1="276.8" y1="411.2" x2="295.2" y2="411.2" stroke="#ff0000" stroke-width="1.6"/><text x="297.9" y="414.8" font-size="9" fill="#1a1a1a">I</text><text x="300.23" y="417.56" font-size="6.78" fill="#1a1a1a">1</text><line x1="304.68" y1="412.15" x2="311.47" y2="412.15" stroke="#666" stroke-width="0.85"/><path d="M310.51,410.67 L313.06,412.15 L310.51,413.64 Z" fill="#333"/><text x="313.16" y="414.8" font-size="9" fill="#1a1a1a">O</text><text x="321.11" y="417.56" font-size="6.78" fill="#1a1a1a">1</text><line x1="276.8" y1="424.8" x2="295.2" y2="424.8" stroke="#0000ff" stroke-width="1.6"/><text x="297.9" y="428.4" font-size="9" fill="#1a1a1a">I</text><text x="300.23" y="431.16" font-size="6.78" fill="#1a1a1a">1</text><line x1="304.68" y1="425.75" x2="311.47" y2="425.75" stroke="#666" stroke-width="0.85"/><path d="M310.51,424.27 L313.06,425.75 L310.51,427.24 Z" fill="#333"/><text x="313.16" y="428.4" font-size="9" fill="#1a1a1a">O</text><text x="321.11" y="431.16" font-size="6.78" fill="#1a1a1a">2</text><text x="371.4" y="449.9" font-size="9.2" text-anchor="middle" font-weight="normal" fill="#1a1a1a">14.7 dB</text><polygon points="353,470.7 351.3,474.36 347.28,474 349.6,477.3 347.28,480.6 351.3,480.24 353,483.9 354.7,480.24 358.72,480.6 356.4,477.3 358.72,474 354.7,474.36" fill="#3b97d3"/><text x="355" y="522.8" font-size="9.3" text-anchor="middle" font-weight="normal" fill="#1a1a1a">Wavelength(nm)</text><text x="236.5" y="386.3" font-size="9.5" text-anchor="start" font-weight="bold" fill="#111">g</text><clipPath id="ch"><rect x="500.4" y="382.1" width="169.4" height="119.4"/></clipPath><rect x="500.4" y="382.1" width="169.4" height="119.4" fill="#fff"/><polyline points="500.4,391.81 500.73,391.41 501.13,391.79 501.58,392.11 502.09,391.88 502.63,391.6 503.22,391.54 503.84,391.93 504.49,391.92 505.17,392.19 505.85,392.18 506.55,392.14 507.26,391.72 507.96,391.52 508.65,391.53 509.34,391.6 510,391.01 510.57,390.41 511.14,390.06 511.7,390.65 512.25,391.46 512.81,392.06 513.37,392.15 513.93,392.01 514.5,391.95 515.08,391.88 515.68,391.99 516.29,391.86 516.92,391.61 517.58,390.86 518.26,390.25 518.97,390.06 519.71,390.24 520.49,390.33 521.3,390.34 521.79,390.59 522.31,391.18 522.84,391.49 523.39,391.54 523.96,391.36 524.54,391.53 525.14,391.93 525.75,392.05 526.36,391.92 526.99,391.31 527.63,390.95 528.27,390.64 528.92,390.59 529.57,390.59 530.23,390.52 530.88,390.34 531.54,390.09 532.2,389.76 532.85,389.63 533.5,389.35 534.14,389.44 534.78,389.23 535.41,389.38 536.03,389.31 536.64,389.58 537.24,389.53 537.82,389.58 538.39,389.8 538.95,390 539.48,390.18 540,389.87 540.74,389.97 541.47,389.76 542.18,389.99 542.88,390.12 543.56,390.9 544.23,391.17 544.89,391.22 545.53,390.92 546.16,391.12 546.77,391.53 547.38,391.73 547.97,391.73 548.55,391.57 549.11,391.51 549.67,391.34 550.22,391.52 550.75,392.04 551.28,392.67 551.8,393.05 552.3,392.97 552.8,392.71 553.53,392.45 554.15,392.21 554.69,392.17 555.16,391.64 555.6,391.22 556.02,390.54 556.46,390.14 556.93,389.71 557.46,389.22 558.08,388.63 558.81,388.14 559.68,388.03 560.7,388.03 561.12,387.88 561.57,387.26 562.04,386.57 562.53,386.01 563.04,386.12 563.56,386.48 564.1,386.71 564.66,386.26 565.24,385.71 565.82,385.81 566.42,386.39 567.03,387.04 567.66,387.17 568.29,386.76 568.93,386.53 569.57,386.28 570.22,386.5 570.88,386.67 571.54,386.94 572.2,387.09 572.87,386.67 573.53,386.51 574.19,386.38 574.86,386.86 575.51,387.13 576.17,387.38 576.82,386.96 577.46,386.52 578.1,385.76 578.73,385.81 579.35,385.79 579.95,386.44 580.55,386.44 581.13,386.55 581.7,386.17 582.35,386.21 583.01,386.16 583.66,386.14 584.31,385.81 584.97,385.45 585.61,385.15 586.26,384.86 586.91,384.53 587.55,384.69 588.19,385.06 588.83,385.61 589.46,385.59 590.09,385.65 590.72,385.81 591.34,386.13 591.96,386.54 592.57,386.68 593.18,386.85 593.78,386.56 594.38,386.71 594.97,386.51 595.56,386.68 596.14,386.53 596.71,386.37 597.28,385.97 597.84,385.6 598.39,385.74 598.93,385.8 599.47,385.58 600,385.44 600.71,385.24 601.4,385.4 602.07,385.4 602.73,385.69 603.37,385.75 604.01,385.34 604.63,384.91 605.23,384.4 605.83,384.55 606.42,384.39 607.01,385.03 607.58,385.4 608.15,386.34 608.72,386.26 609.28,386.18 609.84,385.62 610.4,385.47 610.95,385.7 611.51,385.92 612.07,386.41 612.63,385.98 613.2,385.58 613.86,384.78 614.51,384.52 615.17,384.82 615.82,385.27 616.47,385.99 617.12,386.23 617.76,386.33 618.4,386.08 619.03,385.17 619.66,384.2 620.28,383.44 620.9,383.43 621.51,384.08 622.11,384.84 622.7,385.92 623.29,386.19 623.87,385.97 624.44,385.04 625,384.85 625.7,385.23 626.39,386.04 627.06,386.35 627.73,386.23 628.39,386.06 629.03,385.83 629.67,385.54 630.29,385.12 630.9,385.08 631.5,385.48 632.09,385.78 632.66,385.92 633.22,385.88 633.77,385.9 634.3,386.07 635.07,386.55 635.8,387.35 636.5,387.84 637.16,388.02 637.81,387.99 638.43,388.08 639.03,388.27 639.63,388.66 640.22,389.25 640.8,389.98 641.49,390.19 642.1,389.81 642.68,388.91 643.24,388.08 643.83,387.51 644.46,387.03 645.18,386.97 646,386.52 646.49,386.56 647.02,386.07 647.57,386.47 648.15,386.72 648.75,387.24 649.36,387.32 649.99,387.54 650.63,388.13 651.28,388.93 651.92,389.34 652.56,389.57 653.19,389.35 653.81,389.44 654.42,388.82 655,388.59 655.66,388.2 656.32,388.74 656.98,389.04 657.63,390.11 658.28,391.06 658.93,392.8 659.57,393.89 660.2,394.74 660.82,394.85 661.43,394.84 662.03,394.54 662.62,394.06 663.2,393.53 663.95,393.64 664.73,393.79 665.51,394 666.27,393.4 667.01,393.12 667.71,392.8 668.36,392.66 668.93,391.93 669.41,391.3 669.8,391.21" fill="none" stroke="#0000ff" stroke-width="1.65" stroke-linejoin="round" stroke-linecap="round" clip-path="url(#ch)"/><polyline points="500.4,476.82 500.81,474.73 501.4,471.4 502.09,468.85 502.8,467.85 503.37,468.9 503.98,470.65 504.62,473.02 505.29,475.57 506,478 506.63,480.11 507.29,482.37 507.97,484.81 508.68,487.1 509.39,489.3 510.1,490.42 510.71,490.11 511.31,488.54 511.93,486.6 512.55,484.45 513.18,482.57 513.83,481.38 514.5,481.42 515.11,482.75 515.74,484.7 516.39,487.29 517.05,489.7 517.71,492.12 518.36,494.04 518.99,495.81 519.6,497.11 520.27,497.22 520.91,495.98 521.53,493.4 522.15,490.65 522.76,488.17 523.38,486.75 524,486.59 524.62,487.96 525.24,490.49 525.85,493.55 526.47,496.64 527.09,499.47 527.73,501.67 528.4,503.06 529.02,503.11 529.69,502.61 530.38,501.29 531.07,499.77 531.75,497.97 532.39,496.68 532.98,495.91 533.5,495.95 534.27,497.39 534.82,499.95 535.33,502.89 536,505.08 536.63,506.13 537.37,506.88 538.16,507.82 538.91,508.86 539.55,509.89 540,510.42" fill="none" stroke="#ff0000" stroke-width="1.65" stroke-linejoin="round" stroke-linecap="round" clip-path="url(#ch)"/><polyline points="500.4,483.48 500.81,480.89 501.35,477.23 502.01,472.88 502.74,469.11 503.51,465.78 504.3,464.64 504.84,464.9 505.42,467.18 506.03,470.07 506.66,473.55 507.3,476.93 507.94,480.47 508.58,483.42 509.2,485.34 509.8,485.6 510.44,484.69 511.07,482.22 511.68,479.06 512.28,475.11 512.89,471.3 513.51,467.94 514.14,465.43 514.8,464.47 515.41,465 516.03,467.1 516.66,470.15 517.3,474.18 517.94,478.74 518.6,482.89 519.26,486.08 519.93,487.65 520.6,488.35 521.21,487.94 521.83,486.63 522.47,484.22 523.1,480.83 523.74,476.74 524.38,472.21 525.02,468.29 525.66,465.52 526.28,463.97 526.9,463.41 527.59,464.21 528.3,466.25 529.01,469.47 529.71,473.23 530.41,477.65 531.07,481.84 531.7,485.8 532.28,488.88 532.8,490.88 533.72,491.21 534.39,488.44 535,484.5 535.7,480.98 536.36,478.31 537.04,474.92 537.75,471.89 538.5,469.79 539.3,469.75 539.9,471.4 540.52,474.51 541.15,478.06 541.82,481.89 542.51,485.44 543.23,488.24 544,489.26 544.57,488.64 545.18,486.7 545.82,484.6 546.48,482.09 547.14,479.72 547.81,476.62 548.47,473.48 549.11,470.56 549.72,468.65 550.3,467.98 550.97,468.84 551.59,471 552.18,473.8 552.76,476.57 553.32,479.24 553.89,481.56 554.48,483.3 555.1,483.7 555.73,482.76 556.36,480.59 557,477.69 557.64,474.33 558.31,470.8 559,467.8 559.73,465.16 560.5,463.72 561.05,463.17 561.65,463.47 562.27,464.45 562.92,465.8 563.58,467.53 564.24,468.95 564.9,470.85 565.55,472.27 566.17,473.85 566.76,474.74 567.3,475.37 567.8,475.53 568.64,474.57 569.31,472.83 569.9,470.26 570.45,467.99 571.03,465.55 571.7,464.48 572.24,464.18 572.78,465.12 573.33,466.57 573.89,468.55 574.49,470.33 575.13,471.95 575.83,473.48 576.6,474.3 577.12,474.61 577.69,474.53 578.29,474.55 578.93,474.1 579.58,473.44 580.25,472.73 580.92,472.33 581.59,472.03 582.25,471.74 582.89,471.14 583.5,470.3 584.07,469.59 584.6,469.25 585.38,469.9 586.08,471.05 586.72,472.6 587.33,473.82 587.91,474.75 588.49,475.42 589.08,475.55 589.7,475.02 590.32,473.65 590.92,472.11 591.5,470.49 592.09,468.95 592.7,467.42 593.37,466.13 594.09,465.13 594.9,464.3 595.41,464.01 595.97,464.06 596.56,464.84 597.18,465.77 597.82,466.5 598.48,467.1 599.14,467.43 599.81,468.02 600.47,468.18 601.11,468.8 601.73,469.42 602.32,470.27 602.88,471.15 603.4,471.9 604.18,472.45 604.81,471.74 605.37,470.16 605.89,468.28 606.43,466.97 607.04,466.32 607.78,465.75 608.7,465.15 609.18,464.59 609.7,463.57 610.27,462.49 610.86,461.8 611.49,461.8 612.14,461.98 612.8,461.95 613.48,461.46 614.17,460.94 614.86,460.59 615.54,460.47 616.22,460.16 616.88,459.66 617.52,459.12 618.14,458.95 618.73,458.89 619.29,459.09 619.8,459.1 620.57,459.69 621.28,460.66 621.94,461.96 622.56,463.17 623.14,464.22 623.7,465.55 624.24,466.88 624.77,467.85 625.3,468.23 625.84,468.13 626.4,467.52 627.08,466.46 627.72,465.13 628.34,464.22 628.96,463.26 629.58,462.02 630.21,460.33 630.87,458.58 631.56,457.68 632.3,457.24 632.84,457.75 633.41,458.1 634,458.93 634.61,459.72 635.22,460.74 635.85,461.53 636.49,462.25 637.12,462.89 637.76,463.94 638.38,464.93 639,466.02 639.61,466.72 640.2,467 640.89,466.53 641.59,465.49 642.28,464.42 642.98,463.32 643.67,462.49 644.34,461.46 645,460.64 645.64,459.82 646.26,459.36 646.85,458.83 647.4,458.42 648.18,458.15 648.85,458.58 649.45,459.48 650.03,460.89 650.62,462.28 651.26,463.28 652,463.61 652.53,463.72 653.08,464.22 653.66,465.04 654.26,465.44 654.87,465.32 655.49,464.64 656.12,463.97 656.75,463.5 657.38,463.46 658,463.53 658.6,463.32 659.26,462.82 659.94,462.25 660.61,462.12 661.29,462.1 661.97,462.09 662.63,461.64 663.29,461.09 663.92,460.81 664.52,460.82 665.1,460.83 665.91,460.54 666.71,460.45 667.49,460.68 668.21,461.13 668.85,461.39 669.39,461.43 669.8,461.38" fill="none" stroke="#000" stroke-width="1.65" stroke-linejoin="round" stroke-linecap="round" clip-path="url(#ch)"/><rect x="500.4" y="382.1" width="169.4" height="119.4" fill="none" stroke="#7a7a7a" stroke-width="0.9"/><line x1="500.4" y1="382.1" x2="500.4" y2="502" stroke="#555" stroke-width="1.0"/><line x1="500.4" y1="501.5" x2="669.8" y2="501.5" stroke="#4a4a4a" stroke-width="1.0"/><line x1="498.2" y1="388.6" x2="500.4" y2="388.6" stroke="#555" stroke-width="0.9"/><text transform="translate(496.8 391.95) scale(0.97 1)" x="0" y="0" font-size="9.4" text-anchor="end" font-weight="normal" fill="#1a1a1a">-12</text><line x1="498.2" y1="415.3" x2="500.4" y2="415.3" stroke="#555" stroke-width="0.9"/><text transform="translate(496.8 418.65) scale(0.97 1)" x="0" y="0" font-size="9.4" text-anchor="end" font-weight="normal" fill="#1a1a1a">-16</text><line x1="498.2" y1="441.6" x2="500.4" y2="441.6" stroke="#555" stroke-width="0.9"/><text transform="translate(496.8 444.95) scale(0.97 1)" x="0" y="0" font-size="9.4" text-anchor="end" font-weight="normal" fill="#1a1a1a">-20</text><line x1="498.2" y1="468.3" x2="500.4" y2="468.3" stroke="#555" stroke-width="0.9"/><text transform="translate(496.8 471.65) scale(0.97 1)" x="0" y="0" font-size="9.4" text-anchor="end" font-weight="normal" fill="#1a1a1a">-24</text><line x1="498.2" y1="495" x2="500.4" y2="495" stroke="#555" stroke-width="0.9"/><text transform="translate(496.8 498.35) scale(0.97 1)" x="0" y="0" font-size="9.4" text-anchor="end" font-weight="normal" fill="#1a1a1a">-28</text><line x1="500.3" y1="501.5" x2="500.3" y2="503.7" stroke="#555" stroke-width="0.9"/><text transform="translate(500.3 512.4) scale(0.92 1)" x="0" y="0" font-size="9.3" text-anchor="middle" font-weight="normal" fill="#1a1a1a">1530</text><line x1="542.67" y1="501.5" x2="542.67" y2="503.7" stroke="#555" stroke-width="0.9"/><text transform="translate(542.67 512.4) scale(0.92 1)" x="0" y="0" font-size="9.3" text-anchor="middle" font-weight="normal" fill="#1a1a1a">1540</text><line x1="585.05" y1="501.5" x2="585.05" y2="503.7" stroke="#555" stroke-width="0.9"/><text transform="translate(585.05 512.4) scale(0.92 1)" x="0" y="0" font-size="9.3" text-anchor="middle" font-weight="normal" fill="#1a1a1a">1550</text><line x1="627.42" y1="501.5" x2="627.42" y2="503.7" stroke="#555" stroke-width="0.9"/><text transform="translate(627.42 512.4) scale(0.92 1)" x="0" y="0" font-size="9.3" text-anchor="middle" font-weight="normal" fill="#1a1a1a">1560</text><line x1="669.8" y1="501.5" x2="669.8" y2="503.7" stroke="#555" stroke-width="0.9"/><text transform="translate(669.8 512.4) scale(0.92 1)" x="0" y="0" font-size="9.3" text-anchor="middle" font-weight="normal" fill="#1a1a1a">1570</text><line x1="507.4" y1="397.2" x2="525.8" y2="397.2" stroke="#000" stroke-width="1.6"/><text x="528.5" y="400.74" font-size="9" fill="#1a1a1a">I</text><text x="530.79" y="403.44" font-size="6.66" fill="#1a1a1a">2</text><line x1="535.16" y1="398.14" x2="541.81" y2="398.14" stroke="#666" stroke-width="0.83"/><path d="M540.88,396.68 L543.37,398.14 L540.88,399.59 Z" fill="#333"/><text x="543.48" y="400.74" font-size="9" fill="#1a1a1a">O</text><text x="551.28" y="403.44" font-size="6.66" fill="#1a1a1a">0</text><line x1="507.4" y1="411.2" x2="525.8" y2="411.2" stroke="#ff0000" stroke-width="1.6"/><text x="528.5" y="414.74" font-size="9" fill="#1a1a1a">I</text><text x="530.79" y="417.44" font-size="6.66" fill="#1a1a1a">2</text><line x1="535.16" y1="412.14" x2="541.81" y2="412.14" stroke="#666" stroke-width="0.83"/><path d="M540.88,410.68 L543.37,412.14 L540.88,413.59 Z" fill="#333"/><text x="543.48" y="414.74" font-size="9" fill="#1a1a1a">O</text><text x="551.28" y="417.44" font-size="6.66" fill="#1a1a1a">1</text><line x1="507.4" y1="425" x2="525.8" y2="425" stroke="#0000ff" stroke-width="1.6"/><text x="528.5" y="428.54" font-size="9" fill="#1a1a1a">I</text><text x="530.79" y="431.24" font-size="6.66" fill="#1a1a1a">2</text><line x1="535.16" y1="425.94" x2="541.81" y2="425.94" stroke="#666" stroke-width="0.83"/><path d="M540.88,424.48 L543.37,425.94 L540.88,427.39 Z" fill="#333"/><text x="543.48" y="428.54" font-size="9" fill="#1a1a1a">O</text><text x="551.28" y="431.24" font-size="6.66" fill="#1a1a1a">2</text><text x="608" y="457.1" font-size="9.2" text-anchor="middle" font-weight="normal" fill="#1a1a1a">12.5 dB</text><polygon points="584.5,463.7 582.8,467.36 578.78,467 581.1,470.3 578.78,473.6 582.8,473.24 584.5,476.9 586.2,473.24 590.22,473.6 587.9,470.3 590.22,467 586.2,467.36" fill="#3b97d3"/><text x="585.5" y="522.8" font-size="9.3" text-anchor="middle" font-weight="normal" fill="#1a1a1a">Wavelength(nm)</text><text x="471.5" y="389" font-size="9.5" text-anchor="start" font-weight="bold" fill="#111">h</text></g>
</svg></div></body></html>
